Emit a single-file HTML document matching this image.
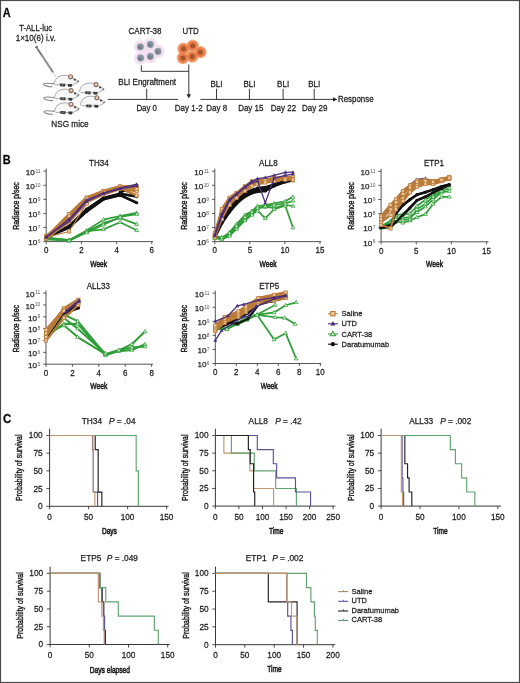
<!DOCTYPE html>
<html><head><meta charset="utf-8"><style>
html,body{margin:0;padding:0;background:#fff;}
body{width:520px;height:683px;overflow:hidden;position:relative;}
svg{position:absolute;left:0;top:0;display:block;font-family:"Liberation Sans", sans-serif;filter:blur(0.3px);}
text{stroke:#1c1c1c;stroke-width:0.25px;}
</style></head><body>
<svg width="520" height="683" viewBox="0 0 520 683">
<rect x="0" y="0" width="520" height="683" fill="#fff"/>
<text transform="translate(2.80,17.20) scale(0.9259,1)" font-size="11.88" text-anchor="start" fill="#000" font-weight="bold" >A</text>
<text transform="translate(35.60,30.80) scale(0.9259,1)" font-size="8.32" text-anchor="middle" fill="#1c1c1c" font-weight="normal" >T-ALL-luc</text>
<text transform="translate(35.70,40.60) scale(0.9259,1)" font-size="8.75" text-anchor="middle" fill="#1c1c1c" font-weight="normal" >1×10(6) i.v.</text>
<line x1="52.3" y1="71.2" x2="55.8" y2="76.8" stroke="#a9a9a9" stroke-width="0.7"/>
<line x1="37.6" y1="49.0" x2="52.6" y2="71.6" stroke="#7b7b7b" stroke-width="1.9" stroke-linecap="round"/>
<line x1="41.5" y1="55.5" x2="51.3" y2="70.0" stroke="#b9bec4" stroke-width="0.7"/>
<circle cx="36.6" cy="47.3" r="1.3" fill="#666"/>
<g transform="translate(25.60,7.30)"><path d="M54 84.8 C54 79.5 58.5 75.6 65 75.8 C68 75.9 70 76.5 72.5 78.5 C75 79.5 77 80.5 78.3 81.8 C77 83.3 75.5 84.2 73.5 84.6" fill="#f7f7f7" stroke="#9c9c9c" stroke-width="0.9"/><path d="M55 85.3 L73.5 85.8" stroke="#9a9a9a" stroke-width="0.9"/><path d="M59.6 84.0 L65.2 84.3 L64.6 87.2 L59.8 86.8 Z" fill="#3c3c3c"/><path d="M67.6 84.4 L72.0 84.6 L71.4 87.4 L68.0 87.2 Z" fill="#3c3c3c"/><circle cx="62.3" cy="85.6" r="0.8" fill="#8a8a8a"/><circle cx="70.4" cy="77.3" r="2.0" fill="#e2cdc3" stroke="#8e6a58" stroke-width="1.1"/><circle cx="74.5" cy="80.2" r="1.0" fill="#2e2e2e"/><path d="M75.5 82.2 L78.5 81.6 L77.2 83.6 Z" fill="#9a9a9a"/><circle cx="78.0" cy="81.7" r="0.7" fill="#555"/></g>
<g transform="translate(26.50,20.40)"><path d="M54 84.8 C54 79.5 58.5 75.6 65 75.8 C68 75.9 70 76.5 72.5 78.5 C75 79.5 77 80.5 78.3 81.8 C77 83.3 75.5 84.2 73.5 84.6" fill="#f7f7f7" stroke="#9c9c9c" stroke-width="0.9"/><path d="M55 85.3 L73.5 85.8" stroke="#9a9a9a" stroke-width="0.9"/><path d="M59.6 84.0 L65.2 84.3 L64.6 87.2 L59.8 86.8 Z" fill="#3c3c3c"/><path d="M67.6 84.4 L72.0 84.6 L71.4 87.4 L68.0 87.2 Z" fill="#3c3c3c"/><circle cx="62.3" cy="85.6" r="0.8" fill="#8a8a8a"/><circle cx="70.4" cy="77.3" r="2.0" fill="#e2cdc3" stroke="#8e6a58" stroke-width="1.1"/><circle cx="74.5" cy="80.2" r="1.0" fill="#2e2e2e"/><path d="M75.5 82.2 L78.5 81.6 L77.2 83.6 Z" fill="#9a9a9a"/><circle cx="78.0" cy="81.7" r="0.7" fill="#555"/></g>
<g transform="translate(0.20,-0.50)"><path d="M54.5 84.4 C49 83.6 44.5 83.4 43.4 84.4 C42.7 85.8 47 87.3 52.4 87.3" fill="none" stroke="#8a8a8a" stroke-width="1.1"/><path d="M54 84.8 C54 79.5 58.5 75.6 65 75.8 C68 75.9 70 76.5 72.5 78.5 C75 79.5 77 80.5 78.3 81.8 C77 83.3 75.5 84.2 73.5 84.6" fill="#f7f7f7" stroke="#9c9c9c" stroke-width="0.9"/><path d="M55 85.3 L73.5 85.8" stroke="#9a9a9a" stroke-width="0.9"/><path d="M59.6 84.0 L65.2 84.3 L64.6 87.2 L59.8 86.8 Z" fill="#3c3c3c"/><path d="M67.6 84.4 L72.0 84.6 L71.4 87.4 L68.0 87.2 Z" fill="#3c3c3c"/><circle cx="62.3" cy="85.6" r="0.8" fill="#8a8a8a"/><circle cx="70.4" cy="77.3" r="2.0" fill="#e2cdc3" stroke="#8e6a58" stroke-width="1.1"/><circle cx="74.5" cy="80.2" r="1.0" fill="#2e2e2e"/><path d="M75.5 82.2 L78.5 81.6 L77.2 83.6 Z" fill="#9a9a9a"/><circle cx="78.0" cy="81.7" r="0.7" fill="#555"/></g>
<g transform="translate(0.60,13.30)"><path d="M54.5 84.4 C49 83.6 44.5 83.4 43.4 84.4 C42.7 85.8 47 87.3 52.4 87.3" fill="none" stroke="#8a8a8a" stroke-width="1.1"/><path d="M54 84.8 C54 79.5 58.5 75.6 65 75.8 C68 75.9 70 76.5 72.5 78.5 C75 79.5 77 80.5 78.3 81.8 C77 83.3 75.5 84.2 73.5 84.6" fill="#f7f7f7" stroke="#9c9c9c" stroke-width="0.9"/><path d="M55 85.3 L73.5 85.8" stroke="#9a9a9a" stroke-width="0.9"/><path d="M59.6 84.0 L65.2 84.3 L64.6 87.2 L59.8 86.8 Z" fill="#3c3c3c"/><path d="M67.6 84.4 L72.0 84.6 L71.4 87.4 L68.0 87.2 Z" fill="#3c3c3c"/><circle cx="62.3" cy="85.6" r="0.8" fill="#8a8a8a"/><circle cx="70.4" cy="77.3" r="2.0" fill="#e2cdc3" stroke="#8e6a58" stroke-width="1.1"/><circle cx="74.5" cy="80.2" r="1.0" fill="#2e2e2e"/><path d="M75.5 82.2 L78.5 81.6 L77.2 83.6 Z" fill="#9a9a9a"/><circle cx="78.0" cy="81.7" r="0.7" fill="#555"/></g>
<g transform="translate(0.60,27.00)"><path d="M54.5 84.4 C49 83.6 44.5 83.4 43.4 84.4 C42.7 85.8 47 87.3 52.4 87.3" fill="none" stroke="#8a8a8a" stroke-width="1.1"/><path d="M54 84.8 C54 79.5 58.5 75.6 65 75.8 C68 75.9 70 76.5 72.5 78.5 C75 79.5 77 80.5 78.3 81.8 C77 83.3 75.5 84.2 73.5 84.6" fill="#f7f7f7" stroke="#9c9c9c" stroke-width="0.9"/><path d="M55 85.3 L73.5 85.8" stroke="#9a9a9a" stroke-width="0.9"/><path d="M59.6 84.0 L65.2 84.3 L64.6 87.2 L59.8 86.8 Z" fill="#3c3c3c"/><path d="M67.6 84.4 L72.0 84.6 L71.4 87.4 L68.0 87.2 Z" fill="#3c3c3c"/><circle cx="62.3" cy="85.6" r="0.8" fill="#8a8a8a"/><circle cx="70.4" cy="77.3" r="2.0" fill="#e2cdc3" stroke="#8e6a58" stroke-width="1.1"/><circle cx="74.5" cy="80.2" r="1.0" fill="#2e2e2e"/><path d="M75.5 82.2 L78.5 81.6 L77.2 83.6 Z" fill="#9a9a9a"/><circle cx="78.0" cy="81.7" r="0.7" fill="#555"/></g>
<text transform="translate(70.00,126.50) scale(0.9259,1)" font-size="8.86" text-anchor="middle" fill="#1c1c1c" font-weight="normal" >NSG mice</text>
<text transform="translate(145.00,34.30) scale(0.9259,1)" font-size="8.75" text-anchor="middle" fill="#1c1c1c" font-weight="normal" >CART-38</text>
<text transform="translate(190.70,34.30) scale(0.9259,1)" font-size="8.53" text-anchor="middle" fill="#1c1c1c" font-weight="normal" >UTD</text>
<g>
<circle cx="140.4" cy="46.8" r="6.6" fill="#f7e0f1"/>
<circle cx="150.4" cy="44.5" r="6.6" fill="#f7e0f1"/>
<circle cx="158" cy="51.4" r="6.6" fill="#f7e0f1"/>
<circle cx="150.4" cy="56.5" r="6.6" fill="#f7e0f1"/>
<circle cx="140.6" cy="58" r="6.6" fill="#f7e0f1"/>
<circle cx="148" cy="51.5" r="6" fill="#f7e0f1"/>
<circle cx="140.4" cy="46.8" r="4.4" fill="#e3e0ea"/>
<circle cx="150.4" cy="44.5" r="4.4" fill="#e3e0ea"/>
<circle cx="158" cy="51.4" r="4.4" fill="#e3e0ea"/>
<circle cx="150.4" cy="56.5" r="4.4" fill="#e3e0ea"/>
<circle cx="140.6" cy="58" r="4.4" fill="#e3e0ea"/>
<circle cx="140.4" cy="46.8" r="3.4" fill="#8d95a3"/>
<circle cx="139.9" cy="47.4" r="1.8" fill="#737b89"/>
<circle cx="150.4" cy="44.5" r="3.4" fill="#8d95a3"/>
<circle cx="149.9" cy="45.1" r="1.8" fill="#737b89"/>
<circle cx="158" cy="51.4" r="3.4" fill="#8d95a3"/>
<circle cx="157.5" cy="52.0" r="1.8" fill="#737b89"/>
<circle cx="150.4" cy="56.5" r="3.4" fill="#8d95a3"/>
<circle cx="149.9" cy="57.1" r="1.8" fill="#737b89"/>
<circle cx="140.6" cy="58" r="3.4" fill="#8d95a3"/>
<circle cx="140.1" cy="58.6" r="1.8" fill="#737b89"/>
<circle cx="183.5" cy="48.8" r="6.2" fill="#f4ae86"/>
<circle cx="192.7" cy="45.8" r="6.2" fill="#f4ae86"/>
<circle cx="200.4" cy="52.2" r="6.2" fill="#f4ae86"/>
<circle cx="192.2" cy="56.5" r="6.2" fill="#f4ae86"/>
<circle cx="182.9" cy="58" r="6.2" fill="#f4ae86"/>
<circle cx="183.5" cy="48.8" r="4.9" fill="#ea7c46"/>
<circle cx="192.7" cy="45.8" r="4.9" fill="#ea7c46"/>
<circle cx="200.4" cy="52.2" r="4.9" fill="#ea7c46"/>
<circle cx="192.2" cy="56.5" r="4.9" fill="#ea7c46"/>
<circle cx="182.9" cy="58" r="4.9" fill="#ea7c46"/>
<circle cx="183.5" cy="48.8" r="2.5" fill="#a4552d"/>
<circle cx="192.7" cy="45.8" r="2.5" fill="#a4552d"/>
<circle cx="200.4" cy="52.2" r="2.5" fill="#a4552d"/>
<circle cx="192.2" cy="56.5" r="2.5" fill="#a4552d"/>
<circle cx="182.9" cy="58" r="2.5" fill="#a4552d"/>
</g>
<path d="M141.3 65.5 V71.3 H188.8 M188.8 64.5 V95" fill="none" stroke="#222" stroke-width="0.9"/>
<path d="M186.6 94.3 L191 94.3 L188.8 98.3 Z" fill="#222"/>
<text transform="translate(147.20,84.60) scale(0.9259,1)" font-size="8.64" text-anchor="middle" fill="#1c1c1c" font-weight="normal" >BLI Engraftment</text>
<line x1="107.70" y1="99.40" x2="178.00" y2="99.40" stroke="#222" stroke-width="0.9"/>
<line x1="146.70" y1="88.80" x2="146.70" y2="99.40" stroke="#222" stroke-width="0.9"/>
<text transform="translate(146.70,111.00) scale(0.9259,1)" font-size="8.53" text-anchor="middle" fill="#1c1c1c" font-weight="normal" >Day 0</text>
<line x1="200.40" y1="99.40" x2="334.00" y2="99.40" stroke="#222" stroke-width="0.9"/>
<path d="M333 97.3 L337.3 99.4 L333 101.5 Z" fill="#222"/>
<line x1="216.50" y1="88.80" x2="216.50" y2="99.40" stroke="#222" stroke-width="0.9"/>
<text transform="translate(216.50,86.60) scale(0.9259,1)" font-size="8.64" text-anchor="middle" fill="#1c1c1c" font-weight="normal" >BLI</text>
<line x1="249.40" y1="88.80" x2="249.40" y2="99.40" stroke="#222" stroke-width="0.9"/>
<text transform="translate(249.40,86.60) scale(0.9259,1)" font-size="8.64" text-anchor="middle" fill="#1c1c1c" font-weight="normal" >BLI</text>
<line x1="283.10" y1="88.80" x2="283.10" y2="99.40" stroke="#222" stroke-width="0.9"/>
<text transform="translate(283.10,86.60) scale(0.9259,1)" font-size="8.64" text-anchor="middle" fill="#1c1c1c" font-weight="normal" >BLI</text>
<line x1="314.20" y1="88.80" x2="314.20" y2="99.40" stroke="#222" stroke-width="0.9"/>
<text transform="translate(314.20,86.60) scale(0.9259,1)" font-size="8.64" text-anchor="middle" fill="#1c1c1c" font-weight="normal" >BLI</text>
<text transform="translate(188.80,111.00) scale(0.9259,1)" font-size="8.64" text-anchor="middle" fill="#1c1c1c" font-weight="normal" >Day 1-2</text>
<text transform="translate(216.65,111.00) scale(0.9259,1)" font-size="8.64" text-anchor="middle" fill="#1c1c1c" font-weight="normal" >Day 8</text>
<text transform="translate(250.80,111.00) scale(0.9259,1)" font-size="8.64" text-anchor="middle" fill="#1c1c1c" font-weight="normal" >Day 15</text>
<text transform="translate(283.50,111.00) scale(0.9259,1)" font-size="8.64" text-anchor="middle" fill="#1c1c1c" font-weight="normal" >Day 22</text>
<text transform="translate(314.70,111.00) scale(0.9259,1)" font-size="8.64" text-anchor="middle" fill="#1c1c1c" font-weight="normal" >Day 29</text>
<text transform="translate(338.00,102.30) scale(0.9259,1)" font-size="8.53" text-anchor="start" fill="#1c1c1c" font-weight="normal" >Response</text>
<text transform="translate(2.80,164.20) scale(0.9259,1)" font-size="11.88" text-anchor="start" fill="#000" font-weight="bold" >B</text>
<path d="M46.20 168.60 V241.60 H153.00" fill="none" stroke="#555" stroke-width="1.0"/>
<line x1="43.40" y1="241.60" x2="46.20" y2="241.60" stroke="#333" stroke-width="0.8"/>
<text transform="translate(37.30,245.30)" font-size="8.1" text-anchor="end" fill="#1c1c1c">10</text><text x="40.50" y="242.90" font-size="4.9" text-anchor="end" fill="#555" style="stroke:none">6</text>
<line x1="43.40" y1="227.52" x2="46.20" y2="227.52" stroke="#333" stroke-width="0.8"/>
<text transform="translate(37.30,231.22)" font-size="8.1" text-anchor="end" fill="#1c1c1c">10</text><text x="40.50" y="228.82" font-size="4.9" text-anchor="end" fill="#555" style="stroke:none">7</text>
<line x1="43.40" y1="213.44" x2="46.20" y2="213.44" stroke="#333" stroke-width="0.8"/>
<text transform="translate(37.30,217.14)" font-size="8.1" text-anchor="end" fill="#1c1c1c">10</text><text x="40.50" y="214.74" font-size="4.9" text-anchor="end" fill="#555" style="stroke:none">8</text>
<line x1="43.40" y1="199.36" x2="46.20" y2="199.36" stroke="#333" stroke-width="0.8"/>
<text transform="translate(37.30,203.06)" font-size="8.1" text-anchor="end" fill="#1c1c1c">10</text><text x="40.50" y="200.66" font-size="4.9" text-anchor="end" fill="#555" style="stroke:none">9</text>
<line x1="43.40" y1="185.28" x2="46.20" y2="185.28" stroke="#333" stroke-width="0.8"/>
<text transform="translate(34.70,188.98)" font-size="8.1" text-anchor="end" fill="#1c1c1c">10</text><text x="40.50" y="186.58" font-size="4.9" text-anchor="end" fill="#555" style="stroke:none">10</text>
<line x1="43.40" y1="171.20" x2="46.20" y2="171.20" stroke="#333" stroke-width="0.8"/>
<text transform="translate(34.70,174.90)" font-size="8.1" text-anchor="end" fill="#1c1c1c">10</text><text x="40.50" y="172.50" font-size="4.9" text-anchor="end" fill="#555" style="stroke:none">11</text>
<line x1="46.20" y1="241.60" x2="46.20" y2="244.20" stroke="#333" stroke-width="0.8"/>
<text transform="translate(46.20,253.40) scale(0.9259,1)" font-size="8.64" text-anchor="middle" fill="#1c1c1c" font-weight="normal" >0</text>
<line x1="81.40" y1="241.60" x2="81.40" y2="244.20" stroke="#333" stroke-width="0.8"/>
<text transform="translate(81.40,253.40) scale(0.9259,1)" font-size="8.64" text-anchor="middle" fill="#1c1c1c" font-weight="normal" >2</text>
<line x1="116.60" y1="241.60" x2="116.60" y2="244.20" stroke="#333" stroke-width="0.8"/>
<text transform="translate(116.60,253.40) scale(0.9259,1)" font-size="8.64" text-anchor="middle" fill="#1c1c1c" font-weight="normal" >4</text>
<line x1="151.80" y1="241.60" x2="151.80" y2="244.20" stroke="#333" stroke-width="0.8"/>
<text transform="translate(151.80,253.40) scale(0.9259,1)" font-size="8.64" text-anchor="middle" fill="#1c1c1c" font-weight="normal" >6</text>
<text transform="translate(98.80,165.60) scale(0.9259,1)" font-size="8.64" text-anchor="middle" fill="#1c1c1c" font-weight="normal" >TH34</text>
<text x="98.70" y="266.80" font-size="9.4" font-weight="normal" text-anchor="middle" fill="#1c1c1c" style="stroke-width:0.55px" textLength="17.0" lengthAdjust="spacingAndGlyphs">Week</text>
<text transform="translate(19.40,206.00) rotate(-90)" x="0" y="0" font-size="8.9" font-weight="normal" text-anchor="middle" fill="#1c1c1c" style="stroke-width:0.45px" textLength="47.5" lengthAdjust="spacingAndGlyphs">Radiance p/sec</text>
<polyline points="46.20,237.38 69.08,227.52 86.68,211.33 103.40,199.36 120.12,195.14 136.66,202.74" fill="none" stroke="#111111" stroke-width="2.6" stroke-linejoin="round" stroke-linecap="round"/>
<polyline points="46.20,238.08 69.08,226.11 86.68,209.22 103.40,197.95 120.12,193.73 136.66,196.54" fill="none" stroke="#111111" stroke-width="2.6" stroke-linejoin="round" stroke-linecap="round"/>
<polyline points="120.12,192.32 136.66,185.28" fill="none" stroke="#111111" stroke-width="2.6" stroke-linejoin="round" stroke-linecap="round"/>
<polyline points="46.20,237.38 69.08,214.14 86.68,197.53 103.40,190.91 120.12,186.27 136.66,186.69" fill="none" stroke="#bb7c3a" stroke-width="2.6" stroke-linejoin="round" stroke-linecap="round"/>
<polyline points="46.20,235.97 69.08,218.79 86.68,200.06 103.40,193.02 120.12,188.10 136.66,195.56" fill="none" stroke="#bb7c3a" stroke-width="2.6" stroke-linejoin="round" stroke-linecap="round"/>
<polyline points="46.20,238.78 69.08,221.89 86.68,202.18 103.40,194.43 120.12,188.80 136.66,190.91" fill="none" stroke="#bb7c3a" stroke-width="2.6" stroke-linejoin="round" stroke-linecap="round"/>
<polyline points="46.20,236.67 69.08,216.26 86.68,198.66 103.40,192.32 120.12,187.39 136.66,188.80" fill="none" stroke="#bb7c3a" stroke-width="2.6" stroke-linejoin="round" stroke-linecap="round"/>
<polyline points="46.20,238.08 69.08,240.19 86.68,230.48 103.40,219.64 120.12,215.97 136.66,212.88" fill="none" stroke="#2f9e37" stroke-width="1.7" stroke-linejoin="round"/>
<path d="M46.20 236.08 L48.10 239.38 L44.30 239.38 Z" fill="#e9f5e9" stroke="#2f9e37" stroke-width="0.75"/><path d="M69.08 238.19 L70.98 241.49 L67.18 241.49 Z" fill="#e9f5e9" stroke="#2f9e37" stroke-width="0.75"/><path d="M86.68 228.48 L88.58 231.78 L84.78 231.78 Z" fill="#e9f5e9" stroke="#2f9e37" stroke-width="0.75"/><path d="M103.40 217.64 L105.30 220.94 L101.50 220.94 Z" fill="#e9f5e9" stroke="#2f9e37" stroke-width="0.75"/><path d="M120.12 213.97 L122.02 217.27 L118.22 217.27 Z" fill="#e9f5e9" stroke="#2f9e37" stroke-width="0.75"/><path d="M136.66 210.88 L138.56 214.18 L134.76 214.18 Z" fill="#e9f5e9" stroke="#2f9e37" stroke-width="0.75"/>
<polyline points="46.20,238.78 69.08,240.90 86.68,231.74 103.40,223.16 120.12,217.95 136.66,224.14" fill="none" stroke="#2f9e37" stroke-width="1.7" stroke-linejoin="round"/>
<path d="M46.20 236.78 L48.10 240.08 L44.30 240.08 Z" fill="#e9f5e9" stroke="#2f9e37" stroke-width="0.75"/><path d="M69.08 238.90 L70.98 242.20 L67.18 242.20 Z" fill="#e9f5e9" stroke="#2f9e37" stroke-width="0.75"/><path d="M86.68 229.74 L88.58 233.04 L84.78 233.04 Z" fill="#e9f5e9" stroke="#2f9e37" stroke-width="0.75"/><path d="M103.40 221.16 L105.30 224.46 L101.50 224.46 Z" fill="#e9f5e9" stroke="#2f9e37" stroke-width="0.75"/><path d="M120.12 215.95 L122.02 219.25 L118.22 219.25 Z" fill="#e9f5e9" stroke="#2f9e37" stroke-width="0.75"/><path d="M136.66 222.14 L138.56 225.44 L134.76 225.44 Z" fill="#e9f5e9" stroke="#2f9e37" stroke-width="0.75"/>
<polyline points="46.20,237.38 69.08,240.19 86.68,231.04 103.40,229.35 120.12,222.17 136.66,230.34" fill="none" stroke="#2f9e37" stroke-width="1.7" stroke-linejoin="round"/>
<path d="M46.20 235.38 L48.10 238.68 L44.30 238.68 Z" fill="#e9f5e9" stroke="#2f9e37" stroke-width="0.75"/><path d="M69.08 238.19 L70.98 241.49 L67.18 241.49 Z" fill="#e9f5e9" stroke="#2f9e37" stroke-width="0.75"/><path d="M86.68 229.04 L88.58 232.34 L84.78 232.34 Z" fill="#e9f5e9" stroke="#2f9e37" stroke-width="0.75"/><path d="M103.40 227.35 L105.30 230.65 L101.50 230.65 Z" fill="#e9f5e9" stroke="#2f9e37" stroke-width="0.75"/><path d="M120.12 220.17 L122.02 223.47 L118.22 223.47 Z" fill="#e9f5e9" stroke="#2f9e37" stroke-width="0.75"/><path d="M136.66 228.34 L138.56 231.64 L134.76 231.64 Z" fill="#e9f5e9" stroke="#2f9e37" stroke-width="0.75"/>
<polyline points="46.20,239.49 69.08,240.47 86.68,232.45 103.40,224.70 120.12,216.96 136.66,214.14" fill="none" stroke="#2f9e37" stroke-width="1.7" stroke-linejoin="round"/>
<path d="M46.20 237.49 L48.10 240.79 L44.30 240.79 Z" fill="#e9f5e9" stroke="#2f9e37" stroke-width="0.75"/><path d="M69.08 238.47 L70.98 241.77 L67.18 241.77 Z" fill="#e9f5e9" stroke="#2f9e37" stroke-width="0.75"/><path d="M86.68 230.45 L88.58 233.75 L84.78 233.75 Z" fill="#e9f5e9" stroke="#2f9e37" stroke-width="0.75"/><path d="M103.40 222.70 L105.30 226.00 L101.50 226.00 Z" fill="#e9f5e9" stroke="#2f9e37" stroke-width="0.75"/><path d="M120.12 214.96 L122.02 218.26 L118.22 218.26 Z" fill="#e9f5e9" stroke="#2f9e37" stroke-width="0.75"/><path d="M136.66 212.14 L138.56 215.44 L134.76 215.44 Z" fill="#e9f5e9" stroke="#2f9e37" stroke-width="0.75"/>
<polyline points="46.20,237.38 69.08,227.52 86.68,211.33 103.40,199.36 120.12,195.14 136.66,202.74" fill="none" stroke="#111111" stroke-width="1.9" stroke-linejoin="round"/>
<circle cx="46.20" cy="237.38" r="1.6" fill="#111111"/><circle cx="69.08" cy="227.52" r="1.6" fill="#111111"/><circle cx="86.68" cy="211.33" r="1.6" fill="#111111"/><circle cx="103.40" cy="199.36" r="1.6" fill="#111111"/><circle cx="120.12" cy="195.14" r="1.6" fill="#111111"/><circle cx="136.66" cy="202.74" r="1.6" fill="#111111"/>
<polyline points="46.20,238.08 69.08,226.11 86.68,209.22 103.40,197.95 120.12,193.73 136.66,196.54" fill="none" stroke="#111111" stroke-width="1.9" stroke-linejoin="round"/>
<circle cx="46.20" cy="238.08" r="1.6" fill="#111111"/><circle cx="69.08" cy="226.11" r="1.6" fill="#111111"/><circle cx="86.68" cy="209.22" r="1.6" fill="#111111"/><circle cx="103.40" cy="197.95" r="1.6" fill="#111111"/><circle cx="120.12" cy="193.73" r="1.6" fill="#111111"/><circle cx="136.66" cy="196.54" r="1.6" fill="#111111"/>
<polyline points="120.12,192.32 136.66,185.28" fill="none" stroke="#111111" stroke-width="1.9" stroke-linejoin="round"/>
<circle cx="120.12" cy="192.32" r="1.6" fill="#111111"/><circle cx="136.66" cy="185.28" r="1.6" fill="#111111"/>
<polyline points="46.20,237.38 69.08,214.14 86.68,197.53 103.40,190.91 120.12,186.27 136.66,186.69" fill="none" stroke="#bb7c3a" stroke-width="1.9" stroke-linejoin="round"/>
<rect x="44.60" y="235.78" width="3.2" height="3.2" fill="#ecc9a0" stroke="#bb7c3a" stroke-width="0.8"/><rect x="67.48" y="212.54" width="3.2" height="3.2" fill="#ecc9a0" stroke="#bb7c3a" stroke-width="0.8"/><rect x="85.08" y="195.93" width="3.2" height="3.2" fill="#ecc9a0" stroke="#bb7c3a" stroke-width="0.8"/><rect x="101.80" y="189.31" width="3.2" height="3.2" fill="#ecc9a0" stroke="#bb7c3a" stroke-width="0.8"/><rect x="118.52" y="184.67" width="3.2" height="3.2" fill="#ecc9a0" stroke="#bb7c3a" stroke-width="0.8"/><rect x="135.06" y="185.09" width="3.2" height="3.2" fill="#ecc9a0" stroke="#bb7c3a" stroke-width="0.8"/>
<polyline points="46.20,235.97 69.08,218.79 86.68,200.06 103.40,193.02 120.12,188.10 136.66,195.56" fill="none" stroke="#bb7c3a" stroke-width="1.9" stroke-linejoin="round"/>
<rect x="44.60" y="234.37" width="3.2" height="3.2" fill="#ecc9a0" stroke="#bb7c3a" stroke-width="0.8"/><rect x="67.48" y="217.19" width="3.2" height="3.2" fill="#ecc9a0" stroke="#bb7c3a" stroke-width="0.8"/><rect x="85.08" y="198.46" width="3.2" height="3.2" fill="#ecc9a0" stroke="#bb7c3a" stroke-width="0.8"/><rect x="101.80" y="191.42" width="3.2" height="3.2" fill="#ecc9a0" stroke="#bb7c3a" stroke-width="0.8"/><rect x="118.52" y="186.50" width="3.2" height="3.2" fill="#ecc9a0" stroke="#bb7c3a" stroke-width="0.8"/><rect x="135.06" y="193.96" width="3.2" height="3.2" fill="#ecc9a0" stroke="#bb7c3a" stroke-width="0.8"/>
<polyline points="46.20,238.78 69.08,221.89 86.68,202.18 103.40,194.43 120.12,188.80 136.66,190.91" fill="none" stroke="#bb7c3a" stroke-width="1.9" stroke-linejoin="round"/>
<rect x="44.60" y="237.18" width="3.2" height="3.2" fill="#ecc9a0" stroke="#bb7c3a" stroke-width="0.8"/><rect x="67.48" y="220.29" width="3.2" height="3.2" fill="#ecc9a0" stroke="#bb7c3a" stroke-width="0.8"/><rect x="85.08" y="200.58" width="3.2" height="3.2" fill="#ecc9a0" stroke="#bb7c3a" stroke-width="0.8"/><rect x="101.80" y="192.83" width="3.2" height="3.2" fill="#ecc9a0" stroke="#bb7c3a" stroke-width="0.8"/><rect x="118.52" y="187.20" width="3.2" height="3.2" fill="#ecc9a0" stroke="#bb7c3a" stroke-width="0.8"/><rect x="135.06" y="189.31" width="3.2" height="3.2" fill="#ecc9a0" stroke="#bb7c3a" stroke-width="0.8"/>
<polyline points="46.20,236.67 69.08,216.26 86.68,198.66 103.40,192.32 120.12,187.39 136.66,188.80" fill="none" stroke="#bb7c3a" stroke-width="1.9" stroke-linejoin="round"/>
<rect x="44.60" y="235.07" width="3.2" height="3.2" fill="#ecc9a0" stroke="#bb7c3a" stroke-width="0.8"/><rect x="67.48" y="214.66" width="3.2" height="3.2" fill="#ecc9a0" stroke="#bb7c3a" stroke-width="0.8"/><rect x="85.08" y="197.06" width="3.2" height="3.2" fill="#ecc9a0" stroke="#bb7c3a" stroke-width="0.8"/><rect x="101.80" y="190.72" width="3.2" height="3.2" fill="#ecc9a0" stroke="#bb7c3a" stroke-width="0.8"/><rect x="118.52" y="185.79" width="3.2" height="3.2" fill="#ecc9a0" stroke="#bb7c3a" stroke-width="0.8"/><rect x="135.06" y="187.20" width="3.2" height="3.2" fill="#ecc9a0" stroke="#bb7c3a" stroke-width="0.8"/>
<polyline points="46.20,237.38 69.08,231.46 86.68,203.58" fill="none" stroke="#bb7c3a" stroke-width="1.14" stroke-linejoin="round"/>
<rect x="44.60" y="235.78" width="3.2" height="3.2" fill="#ecc9a0" stroke="#bb7c3a" stroke-width="0.8"/><rect x="67.48" y="229.86" width="3.2" height="3.2" fill="#ecc9a0" stroke="#bb7c3a" stroke-width="0.8"/><rect x="85.08" y="201.98" width="3.2" height="3.2" fill="#ecc9a0" stroke="#bb7c3a" stroke-width="0.8"/>
<polyline points="46.20,237.38 69.08,219.07 86.68,200.06 103.40,193.02 120.12,188.10 136.66,184.15" fill="none" stroke="#4a2c7c" stroke-width="1.3" stroke-linejoin="round"/>
<path d="M46.20 235.38 L48.10 238.68 L44.30 238.68 Z" fill="#4a2c7c"/><path d="M69.08 217.07 L70.98 220.37 L67.18 220.37 Z" fill="#4a2c7c"/><path d="M86.68 198.06 L88.58 201.36 L84.78 201.36 Z" fill="#4a2c7c"/><path d="M103.40 191.02 L105.30 194.32 L101.50 194.32 Z" fill="#4a2c7c"/><path d="M120.12 186.10 L122.02 189.40 L118.22 189.40 Z" fill="#4a2c7c"/><path d="M136.66 182.15 L138.56 185.45 L134.76 185.45 Z" fill="#4a2c7c"/>
<polyline points="46.20,236.67 69.08,221.18 86.68,201.47 103.40,193.73 120.12,188.80 136.66,185.98" fill="none" stroke="#4a2c7c" stroke-width="1.3" stroke-linejoin="round"/>
<path d="M46.20 234.67 L48.10 237.97 L44.30 237.97 Z" fill="#4a2c7c"/><path d="M69.08 219.18 L70.98 222.48 L67.18 222.48 Z" fill="#4a2c7c"/><path d="M86.68 199.47 L88.58 202.77 L84.78 202.77 Z" fill="#4a2c7c"/><path d="M103.40 191.73 L105.30 195.03 L101.50 195.03 Z" fill="#4a2c7c"/><path d="M120.12 186.80 L122.02 190.10 L118.22 190.10 Z" fill="#4a2c7c"/><path d="M136.66 183.98 L138.56 187.28 L134.76 187.28 Z" fill="#4a2c7c"/>
<path d="M214.80 168.60 V241.60 H321.20" fill="none" stroke="#555" stroke-width="1.0"/>
<line x1="212.00" y1="241.60" x2="214.80" y2="241.60" stroke="#333" stroke-width="0.8"/>
<text transform="translate(205.90,245.30)" font-size="8.1" text-anchor="end" fill="#1c1c1c">10</text><text x="209.10" y="242.90" font-size="4.9" text-anchor="end" fill="#555" style="stroke:none">6</text>
<line x1="212.00" y1="227.52" x2="214.80" y2="227.52" stroke="#333" stroke-width="0.8"/>
<text transform="translate(205.90,231.22)" font-size="8.1" text-anchor="end" fill="#1c1c1c">10</text><text x="209.10" y="228.82" font-size="4.9" text-anchor="end" fill="#555" style="stroke:none">7</text>
<line x1="212.00" y1="213.44" x2="214.80" y2="213.44" stroke="#333" stroke-width="0.8"/>
<text transform="translate(205.90,217.14)" font-size="8.1" text-anchor="end" fill="#1c1c1c">10</text><text x="209.10" y="214.74" font-size="4.9" text-anchor="end" fill="#555" style="stroke:none">8</text>
<line x1="212.00" y1="199.36" x2="214.80" y2="199.36" stroke="#333" stroke-width="0.8"/>
<text transform="translate(205.90,203.06)" font-size="8.1" text-anchor="end" fill="#1c1c1c">10</text><text x="209.10" y="200.66" font-size="4.9" text-anchor="end" fill="#555" style="stroke:none">9</text>
<line x1="212.00" y1="185.28" x2="214.80" y2="185.28" stroke="#333" stroke-width="0.8"/>
<text transform="translate(203.30,188.98)" font-size="8.1" text-anchor="end" fill="#1c1c1c">10</text><text x="209.10" y="186.58" font-size="4.9" text-anchor="end" fill="#555" style="stroke:none">10</text>
<line x1="212.00" y1="171.20" x2="214.80" y2="171.20" stroke="#333" stroke-width="0.8"/>
<text transform="translate(203.30,174.90)" font-size="8.1" text-anchor="end" fill="#1c1c1c">10</text><text x="209.10" y="172.50" font-size="4.9" text-anchor="end" fill="#555" style="stroke:none">11</text>
<line x1="214.80" y1="241.60" x2="214.80" y2="244.20" stroke="#333" stroke-width="0.8"/>
<text transform="translate(214.80,253.40) scale(0.9259,1)" font-size="8.64" text-anchor="middle" fill="#1c1c1c" font-weight="normal" >0</text>
<line x1="249.85" y1="241.60" x2="249.85" y2="244.20" stroke="#333" stroke-width="0.8"/>
<text transform="translate(249.85,253.40) scale(0.9259,1)" font-size="8.64" text-anchor="middle" fill="#1c1c1c" font-weight="normal" >5</text>
<line x1="284.90" y1="241.60" x2="284.90" y2="244.20" stroke="#333" stroke-width="0.8"/>
<text transform="translate(284.90,253.40) scale(0.9259,1)" font-size="8.64" text-anchor="middle" fill="#1c1c1c" font-weight="normal" >10</text>
<line x1="319.95" y1="241.60" x2="319.95" y2="244.20" stroke="#333" stroke-width="0.8"/>
<text transform="translate(319.95,253.40) scale(0.9259,1)" font-size="8.64" text-anchor="middle" fill="#1c1c1c" font-weight="normal" >15</text>
<text transform="translate(268.40,166.00) scale(0.9259,1)" font-size="8.64" text-anchor="middle" fill="#1c1c1c" font-weight="normal" >ALL8</text>
<text x="268.00" y="266.80" font-size="9.4" font-weight="normal" text-anchor="middle" fill="#1c1c1c" style="stroke-width:0.55px" textLength="17.0" lengthAdjust="spacingAndGlyphs">Week</text>
<text transform="translate(186.90,206.00) rotate(-90)" x="0" y="0" font-size="8.9" font-weight="normal" text-anchor="middle" fill="#1c1c1c" style="stroke-width:0.45px" textLength="47.5" lengthAdjust="spacingAndGlyphs">Radiance p/sec</text>
<polyline points="214.80,237.38 221.81,223.30 229.52,212.03 236.53,203.58 244.94,196.54 251.95,193.02 257.56,191.62 265.27,190.91 274.10,185.98 285.25,181.90 292.96,180.35" fill="none" stroke="#111111" stroke-width="2.6" stroke-linejoin="round" stroke-linecap="round"/>
<polyline points="214.80,235.97 221.81,217.66 229.52,206.40 236.53,199.36 244.94,193.02 251.95,190.21 257.56,188.10 265.27,187.39 274.10,184.58 285.25,181.06 292.96,178.94" fill="none" stroke="#111111" stroke-width="2.6" stroke-linejoin="round" stroke-linecap="round"/>
<polyline points="214.80,236.67 221.81,220.48 229.52,209.22 236.53,201.47 244.94,195.14 251.95,191.62 257.56,189.50 265.27,189.50 274.10,185.28 285.25,181.48 292.96,179.65" fill="none" stroke="#111111" stroke-width="2.6" stroke-linejoin="round" stroke-linecap="round"/>
<polyline points="214.80,234.56 221.81,209.22 229.52,197.67 236.53,193.02 244.94,186.27 251.95,181.48 257.56,180.35 265.27,179.65 274.10,178.24 285.25,176.83 292.96,177.25" fill="none" stroke="#bb7c3a" stroke-width="2.6" stroke-linejoin="round" stroke-linecap="round"/>
<polyline points="214.80,235.97 221.81,214.85 229.52,202.18 236.53,195.14 244.94,188.10 251.95,183.87 257.56,182.46 265.27,181.76 274.10,180.35 285.25,178.94 292.96,180.35" fill="none" stroke="#bb7c3a" stroke-width="2.6" stroke-linejoin="round" stroke-linecap="round"/>
<polyline points="214.80,233.15 221.81,212.03 229.52,199.36 236.53,193.73 244.94,187.39 251.95,182.46 257.56,181.06 265.27,180.35 274.10,178.94 285.25,178.24 292.96,178.94" fill="none" stroke="#bb7c3a" stroke-width="2.6" stroke-linejoin="round" stroke-linecap="round"/>
<polyline points="214.80,237.38 221.81,219.07 229.52,204.99 236.53,197.95 244.94,190.91 251.95,185.98 257.56,183.87 265.27,182.46 274.10,181.06 285.25,179.65 292.96,179.65" fill="none" stroke="#bb7c3a" stroke-width="2.6" stroke-linejoin="round" stroke-linecap="round"/>
<polyline points="214.80,237.38 221.81,238.08 229.52,232.31 236.53,224.14 244.94,214.99 251.95,211.05 257.56,205.98 265.27,204.99 274.10,203.44 285.25,201.33 292.96,196.83" fill="none" stroke="#2f9e37" stroke-width="1.7" stroke-linejoin="round"/>
<path d="M214.80 235.38 L216.70 238.68 L212.90 238.68 Z" fill="#e9f5e9" stroke="#2f9e37" stroke-width="0.75"/><path d="M221.81 236.08 L223.71 239.38 L219.91 239.38 Z" fill="#e9f5e9" stroke="#2f9e37" stroke-width="0.75"/><path d="M229.52 230.31 L231.42 233.61 L227.62 233.61 Z" fill="#e9f5e9" stroke="#2f9e37" stroke-width="0.75"/><path d="M236.53 222.14 L238.43 225.44 L234.63 225.44 Z" fill="#e9f5e9" stroke="#2f9e37" stroke-width="0.75"/><path d="M244.94 212.99 L246.84 216.29 L243.04 216.29 Z" fill="#e9f5e9" stroke="#2f9e37" stroke-width="0.75"/><path d="M251.95 209.05 L253.85 212.35 L250.05 212.35 Z" fill="#e9f5e9" stroke="#2f9e37" stroke-width="0.75"/><path d="M257.56 203.98 L259.46 207.28 L255.66 207.28 Z" fill="#e9f5e9" stroke="#2f9e37" stroke-width="0.75"/><path d="M265.27 202.99 L267.17 206.29 L263.37 206.29 Z" fill="#e9f5e9" stroke="#2f9e37" stroke-width="0.75"/><path d="M274.10 201.44 L276.00 204.74 L272.20 204.74 Z" fill="#e9f5e9" stroke="#2f9e37" stroke-width="0.75"/><path d="M285.25 199.33 L287.15 202.63 L283.35 202.63 Z" fill="#e9f5e9" stroke="#2f9e37" stroke-width="0.75"/><path d="M292.96 194.83 L294.86 198.13 L291.06 198.13 Z" fill="#e9f5e9" stroke="#2f9e37" stroke-width="0.75"/>
<polyline points="214.80,236.67 221.81,238.78 229.52,234.56 236.53,227.52 244.94,219.07 251.95,214.14 257.56,208.51 265.27,206.96 274.10,207.95 285.25,204.99 292.96,205.98" fill="none" stroke="#2f9e37" stroke-width="1.7" stroke-linejoin="round"/>
<path d="M214.80 234.67 L216.70 237.97 L212.90 237.97 Z" fill="#e9f5e9" stroke="#2f9e37" stroke-width="0.75"/><path d="M221.81 236.78 L223.71 240.08 L219.91 240.08 Z" fill="#e9f5e9" stroke="#2f9e37" stroke-width="0.75"/><path d="M229.52 232.56 L231.42 235.86 L227.62 235.86 Z" fill="#e9f5e9" stroke="#2f9e37" stroke-width="0.75"/><path d="M236.53 225.52 L238.43 228.82 L234.63 228.82 Z" fill="#e9f5e9" stroke="#2f9e37" stroke-width="0.75"/><path d="M244.94 217.07 L246.84 220.37 L243.04 220.37 Z" fill="#e9f5e9" stroke="#2f9e37" stroke-width="0.75"/><path d="M251.95 212.14 L253.85 215.44 L250.05 215.44 Z" fill="#e9f5e9" stroke="#2f9e37" stroke-width="0.75"/><path d="M257.56 206.51 L259.46 209.81 L255.66 209.81 Z" fill="#e9f5e9" stroke="#2f9e37" stroke-width="0.75"/><path d="M265.27 204.96 L267.17 208.26 L263.37 208.26 Z" fill="#e9f5e9" stroke="#2f9e37" stroke-width="0.75"/><path d="M274.10 205.95 L276.00 209.25 L272.20 209.25 Z" fill="#e9f5e9" stroke="#2f9e37" stroke-width="0.75"/><path d="M285.25 202.99 L287.15 206.29 L283.35 206.29 Z" fill="#e9f5e9" stroke="#2f9e37" stroke-width="0.75"/><path d="M292.96 203.98 L294.86 207.28 L291.06 207.28 Z" fill="#e9f5e9" stroke="#2f9e37" stroke-width="0.75"/>
<polyline points="214.80,238.08 221.81,239.49 229.52,235.97 236.53,228.93 244.94,220.48 251.95,214.85 257.56,210.62 265.27,218.37 274.10,209.22 285.25,205.70 292.96,227.52" fill="none" stroke="#2f9e37" stroke-width="1.7" stroke-linejoin="round"/>
<path d="M214.80 236.08 L216.70 239.38 L212.90 239.38 Z" fill="#e9f5e9" stroke="#2f9e37" stroke-width="0.75"/><path d="M221.81 237.49 L223.71 240.79 L219.91 240.79 Z" fill="#e9f5e9" stroke="#2f9e37" stroke-width="0.75"/><path d="M229.52 233.97 L231.42 237.27 L227.62 237.27 Z" fill="#e9f5e9" stroke="#2f9e37" stroke-width="0.75"/><path d="M236.53 226.93 L238.43 230.23 L234.63 230.23 Z" fill="#e9f5e9" stroke="#2f9e37" stroke-width="0.75"/><path d="M244.94 218.48 L246.84 221.78 L243.04 221.78 Z" fill="#e9f5e9" stroke="#2f9e37" stroke-width="0.75"/><path d="M251.95 212.85 L253.85 216.15 L250.05 216.15 Z" fill="#e9f5e9" stroke="#2f9e37" stroke-width="0.75"/><path d="M257.56 208.62 L259.46 211.92 L255.66 211.92 Z" fill="#e9f5e9" stroke="#2f9e37" stroke-width="0.75"/><path d="M265.27 216.37 L267.17 219.67 L263.37 219.67 Z" fill="#e9f5e9" stroke="#2f9e37" stroke-width="0.75"/><path d="M274.10 207.22 L276.00 210.52 L272.20 210.52 Z" fill="#e9f5e9" stroke="#2f9e37" stroke-width="0.75"/><path d="M285.25 203.70 L287.15 207.00 L283.35 207.00 Z" fill="#e9f5e9" stroke="#2f9e37" stroke-width="0.75"/><path d="M292.96 225.52 L294.86 228.82 L291.06 228.82 Z" fill="#e9f5e9" stroke="#2f9e37" stroke-width="0.75"/>
<polyline points="214.80,235.97 221.81,237.38 229.52,233.15 236.53,226.11 244.94,216.96 251.95,212.03 257.56,207.81 265.27,206.40 274.10,204.99 285.25,203.58 292.96,200.77" fill="none" stroke="#2f9e37" stroke-width="1.7" stroke-linejoin="round"/>
<path d="M214.80 233.97 L216.70 237.27 L212.90 237.27 Z" fill="#e9f5e9" stroke="#2f9e37" stroke-width="0.75"/><path d="M221.81 235.38 L223.71 238.68 L219.91 238.68 Z" fill="#e9f5e9" stroke="#2f9e37" stroke-width="0.75"/><path d="M229.52 231.15 L231.42 234.45 L227.62 234.45 Z" fill="#e9f5e9" stroke="#2f9e37" stroke-width="0.75"/><path d="M236.53 224.11 L238.43 227.41 L234.63 227.41 Z" fill="#e9f5e9" stroke="#2f9e37" stroke-width="0.75"/><path d="M244.94 214.96 L246.84 218.26 L243.04 218.26 Z" fill="#e9f5e9" stroke="#2f9e37" stroke-width="0.75"/><path d="M251.95 210.03 L253.85 213.33 L250.05 213.33 Z" fill="#e9f5e9" stroke="#2f9e37" stroke-width="0.75"/><path d="M257.56 205.81 L259.46 209.11 L255.66 209.11 Z" fill="#e9f5e9" stroke="#2f9e37" stroke-width="0.75"/><path d="M265.27 204.40 L267.17 207.70 L263.37 207.70 Z" fill="#e9f5e9" stroke="#2f9e37" stroke-width="0.75"/><path d="M274.10 202.99 L276.00 206.29 L272.20 206.29 Z" fill="#e9f5e9" stroke="#2f9e37" stroke-width="0.75"/><path d="M285.25 201.58 L287.15 204.88 L283.35 204.88 Z" fill="#e9f5e9" stroke="#2f9e37" stroke-width="0.75"/><path d="M292.96 198.77 L294.86 202.07 L291.06 202.07 Z" fill="#e9f5e9" stroke="#2f9e37" stroke-width="0.75"/>
<polyline points="214.80,237.38 221.81,223.30 229.52,212.03 236.53,203.58 244.94,196.54 251.95,193.02 257.56,191.62 265.27,190.91 274.10,185.98 285.25,181.90 292.96,180.35" fill="none" stroke="#111111" stroke-width="1.9" stroke-linejoin="round"/>
<circle cx="214.80" cy="237.38" r="1.6" fill="#111111"/><circle cx="221.81" cy="223.30" r="1.6" fill="#111111"/><circle cx="229.52" cy="212.03" r="1.6" fill="#111111"/><circle cx="236.53" cy="203.58" r="1.6" fill="#111111"/><circle cx="244.94" cy="196.54" r="1.6" fill="#111111"/><circle cx="251.95" cy="193.02" r="1.6" fill="#111111"/><circle cx="257.56" cy="191.62" r="1.6" fill="#111111"/><circle cx="265.27" cy="190.91" r="1.6" fill="#111111"/><circle cx="274.10" cy="185.98" r="1.6" fill="#111111"/><circle cx="285.25" cy="181.90" r="1.6" fill="#111111"/><circle cx="292.96" cy="180.35" r="1.6" fill="#111111"/>
<polyline points="214.80,235.97 221.81,217.66 229.52,206.40 236.53,199.36 244.94,193.02 251.95,190.21 257.56,188.10 265.27,187.39 274.10,184.58 285.25,181.06 292.96,178.94" fill="none" stroke="#111111" stroke-width="1.9" stroke-linejoin="round"/>
<circle cx="214.80" cy="235.97" r="1.6" fill="#111111"/><circle cx="221.81" cy="217.66" r="1.6" fill="#111111"/><circle cx="229.52" cy="206.40" r="1.6" fill="#111111"/><circle cx="236.53" cy="199.36" r="1.6" fill="#111111"/><circle cx="244.94" cy="193.02" r="1.6" fill="#111111"/><circle cx="251.95" cy="190.21" r="1.6" fill="#111111"/><circle cx="257.56" cy="188.10" r="1.6" fill="#111111"/><circle cx="265.27" cy="187.39" r="1.6" fill="#111111"/><circle cx="274.10" cy="184.58" r="1.6" fill="#111111"/><circle cx="285.25" cy="181.06" r="1.6" fill="#111111"/><circle cx="292.96" cy="178.94" r="1.6" fill="#111111"/>
<polyline points="214.80,236.67 221.81,220.48 229.52,209.22 236.53,201.47 244.94,195.14 251.95,191.62 257.56,189.50 265.27,189.50 274.10,185.28 285.25,181.48 292.96,179.65" fill="none" stroke="#111111" stroke-width="1.9" stroke-linejoin="round"/>
<circle cx="214.80" cy="236.67" r="1.6" fill="#111111"/><circle cx="221.81" cy="220.48" r="1.6" fill="#111111"/><circle cx="229.52" cy="209.22" r="1.6" fill="#111111"/><circle cx="236.53" cy="201.47" r="1.6" fill="#111111"/><circle cx="244.94" cy="195.14" r="1.6" fill="#111111"/><circle cx="251.95" cy="191.62" r="1.6" fill="#111111"/><circle cx="257.56" cy="189.50" r="1.6" fill="#111111"/><circle cx="265.27" cy="189.50" r="1.6" fill="#111111"/><circle cx="274.10" cy="185.28" r="1.6" fill="#111111"/><circle cx="285.25" cy="181.48" r="1.6" fill="#111111"/><circle cx="292.96" cy="179.65" r="1.6" fill="#111111"/>
<polyline points="214.80,234.56 221.81,209.22 229.52,197.67 236.53,193.02 244.94,186.27 251.95,181.48 257.56,180.35 265.27,179.65 274.10,178.24 285.25,176.83 292.96,177.25" fill="none" stroke="#bb7c3a" stroke-width="1.9" stroke-linejoin="round"/>
<rect x="213.20" y="232.96" width="3.2" height="3.2" fill="#ecc9a0" stroke="#bb7c3a" stroke-width="0.8"/><rect x="220.21" y="207.62" width="3.2" height="3.2" fill="#ecc9a0" stroke="#bb7c3a" stroke-width="0.8"/><rect x="227.92" y="196.07" width="3.2" height="3.2" fill="#ecc9a0" stroke="#bb7c3a" stroke-width="0.8"/><rect x="234.93" y="191.42" width="3.2" height="3.2" fill="#ecc9a0" stroke="#bb7c3a" stroke-width="0.8"/><rect x="243.34" y="184.67" width="3.2" height="3.2" fill="#ecc9a0" stroke="#bb7c3a" stroke-width="0.8"/><rect x="250.35" y="179.88" width="3.2" height="3.2" fill="#ecc9a0" stroke="#bb7c3a" stroke-width="0.8"/><rect x="255.96" y="178.75" width="3.2" height="3.2" fill="#ecc9a0" stroke="#bb7c3a" stroke-width="0.8"/><rect x="263.67" y="178.05" width="3.2" height="3.2" fill="#ecc9a0" stroke="#bb7c3a" stroke-width="0.8"/><rect x="272.50" y="176.64" width="3.2" height="3.2" fill="#ecc9a0" stroke="#bb7c3a" stroke-width="0.8"/><rect x="283.65" y="175.23" width="3.2" height="3.2" fill="#ecc9a0" stroke="#bb7c3a" stroke-width="0.8"/><rect x="291.36" y="175.65" width="3.2" height="3.2" fill="#ecc9a0" stroke="#bb7c3a" stroke-width="0.8"/>
<polyline points="214.80,235.97 221.81,214.85 229.52,202.18 236.53,195.14 244.94,188.10 251.95,183.87 257.56,182.46 265.27,181.76 274.10,180.35 285.25,178.94 292.96,180.35" fill="none" stroke="#bb7c3a" stroke-width="1.9" stroke-linejoin="round"/>
<rect x="213.20" y="234.37" width="3.2" height="3.2" fill="#ecc9a0" stroke="#bb7c3a" stroke-width="0.8"/><rect x="220.21" y="213.25" width="3.2" height="3.2" fill="#ecc9a0" stroke="#bb7c3a" stroke-width="0.8"/><rect x="227.92" y="200.58" width="3.2" height="3.2" fill="#ecc9a0" stroke="#bb7c3a" stroke-width="0.8"/><rect x="234.93" y="193.54" width="3.2" height="3.2" fill="#ecc9a0" stroke="#bb7c3a" stroke-width="0.8"/><rect x="243.34" y="186.50" width="3.2" height="3.2" fill="#ecc9a0" stroke="#bb7c3a" stroke-width="0.8"/><rect x="250.35" y="182.27" width="3.2" height="3.2" fill="#ecc9a0" stroke="#bb7c3a" stroke-width="0.8"/><rect x="255.96" y="180.86" width="3.2" height="3.2" fill="#ecc9a0" stroke="#bb7c3a" stroke-width="0.8"/><rect x="263.67" y="180.16" width="3.2" height="3.2" fill="#ecc9a0" stroke="#bb7c3a" stroke-width="0.8"/><rect x="272.50" y="178.75" width="3.2" height="3.2" fill="#ecc9a0" stroke="#bb7c3a" stroke-width="0.8"/><rect x="283.65" y="177.34" width="3.2" height="3.2" fill="#ecc9a0" stroke="#bb7c3a" stroke-width="0.8"/><rect x="291.36" y="178.75" width="3.2" height="3.2" fill="#ecc9a0" stroke="#bb7c3a" stroke-width="0.8"/>
<polyline points="214.80,233.15 221.81,212.03 229.52,199.36 236.53,193.73 244.94,187.39 251.95,182.46 257.56,181.06 265.27,180.35 274.10,178.94 285.25,178.24 292.96,178.94" fill="none" stroke="#bb7c3a" stroke-width="1.9" stroke-linejoin="round"/>
<rect x="213.20" y="231.55" width="3.2" height="3.2" fill="#ecc9a0" stroke="#bb7c3a" stroke-width="0.8"/><rect x="220.21" y="210.43" width="3.2" height="3.2" fill="#ecc9a0" stroke="#bb7c3a" stroke-width="0.8"/><rect x="227.92" y="197.76" width="3.2" height="3.2" fill="#ecc9a0" stroke="#bb7c3a" stroke-width="0.8"/><rect x="234.93" y="192.13" width="3.2" height="3.2" fill="#ecc9a0" stroke="#bb7c3a" stroke-width="0.8"/><rect x="243.34" y="185.79" width="3.2" height="3.2" fill="#ecc9a0" stroke="#bb7c3a" stroke-width="0.8"/><rect x="250.35" y="180.86" width="3.2" height="3.2" fill="#ecc9a0" stroke="#bb7c3a" stroke-width="0.8"/><rect x="255.96" y="179.46" width="3.2" height="3.2" fill="#ecc9a0" stroke="#bb7c3a" stroke-width="0.8"/><rect x="263.67" y="178.75" width="3.2" height="3.2" fill="#ecc9a0" stroke="#bb7c3a" stroke-width="0.8"/><rect x="272.50" y="177.34" width="3.2" height="3.2" fill="#ecc9a0" stroke="#bb7c3a" stroke-width="0.8"/><rect x="283.65" y="176.64" width="3.2" height="3.2" fill="#ecc9a0" stroke="#bb7c3a" stroke-width="0.8"/><rect x="291.36" y="177.34" width="3.2" height="3.2" fill="#ecc9a0" stroke="#bb7c3a" stroke-width="0.8"/>
<polyline points="214.80,237.38 221.81,219.07 229.52,204.99 236.53,197.95 244.94,190.91 251.95,185.98 257.56,183.87 265.27,182.46 274.10,181.06 285.25,179.65 292.96,179.65" fill="none" stroke="#bb7c3a" stroke-width="1.9" stroke-linejoin="round"/>
<rect x="213.20" y="235.78" width="3.2" height="3.2" fill="#ecc9a0" stroke="#bb7c3a" stroke-width="0.8"/><rect x="220.21" y="217.47" width="3.2" height="3.2" fill="#ecc9a0" stroke="#bb7c3a" stroke-width="0.8"/><rect x="227.92" y="203.39" width="3.2" height="3.2" fill="#ecc9a0" stroke="#bb7c3a" stroke-width="0.8"/><rect x="234.93" y="196.35" width="3.2" height="3.2" fill="#ecc9a0" stroke="#bb7c3a" stroke-width="0.8"/><rect x="243.34" y="189.31" width="3.2" height="3.2" fill="#ecc9a0" stroke="#bb7c3a" stroke-width="0.8"/><rect x="250.35" y="184.38" width="3.2" height="3.2" fill="#ecc9a0" stroke="#bb7c3a" stroke-width="0.8"/><rect x="255.96" y="182.27" width="3.2" height="3.2" fill="#ecc9a0" stroke="#bb7c3a" stroke-width="0.8"/><rect x="263.67" y="180.86" width="3.2" height="3.2" fill="#ecc9a0" stroke="#bb7c3a" stroke-width="0.8"/><rect x="272.50" y="179.46" width="3.2" height="3.2" fill="#ecc9a0" stroke="#bb7c3a" stroke-width="0.8"/><rect x="283.65" y="178.05" width="3.2" height="3.2" fill="#ecc9a0" stroke="#bb7c3a" stroke-width="0.8"/><rect x="291.36" y="178.05" width="3.2" height="3.2" fill="#ecc9a0" stroke="#bb7c3a" stroke-width="0.8"/>
<polyline points="214.80,234.56 221.81,213.44 229.52,199.36 236.53,193.73 244.94,186.69 251.95,181.06 257.56,178.66 265.27,177.54 274.10,175.28 285.25,172.33 292.96,172.19" fill="none" stroke="#4a2c7c" stroke-width="1.3" stroke-linejoin="round"/>
<path d="M214.80 232.56 L216.70 235.86 L212.90 235.86 Z" fill="#4a2c7c"/><path d="M221.81 211.44 L223.71 214.74 L219.91 214.74 Z" fill="#4a2c7c"/><path d="M229.52 197.36 L231.42 200.66 L227.62 200.66 Z" fill="#4a2c7c"/><path d="M236.53 191.73 L238.43 195.03 L234.63 195.03 Z" fill="#4a2c7c"/><path d="M244.94 184.69 L246.84 187.99 L243.04 187.99 Z" fill="#4a2c7c"/><path d="M251.95 179.06 L253.85 182.36 L250.05 182.36 Z" fill="#4a2c7c"/><path d="M257.56 176.66 L259.46 179.96 L255.66 179.96 Z" fill="#4a2c7c"/><path d="M265.27 175.54 L267.17 178.84 L263.37 178.84 Z" fill="#4a2c7c"/><path d="M274.10 173.28 L276.00 176.58 L272.20 176.58 Z" fill="#4a2c7c"/><path d="M285.25 170.33 L287.15 173.63 L283.35 173.63 Z" fill="#4a2c7c"/><path d="M292.96 170.19 L294.86 173.49 L291.06 173.49 Z" fill="#4a2c7c"/>
<polyline points="214.80,235.97 221.81,216.26 229.52,200.77 236.53,194.43 244.94,187.39 251.95,182.46 257.56,181.06 265.27,202.88 274.10,178.24 285.25,175.42 292.96,174.02" fill="none" stroke="#4a2c7c" stroke-width="1.3" stroke-linejoin="round"/>
<path d="M214.80 233.97 L216.70 237.27 L212.90 237.27 Z" fill="#4a2c7c"/><path d="M221.81 214.26 L223.71 217.56 L219.91 217.56 Z" fill="#4a2c7c"/><path d="M229.52 198.77 L231.42 202.07 L227.62 202.07 Z" fill="#4a2c7c"/><path d="M236.53 192.43 L238.43 195.73 L234.63 195.73 Z" fill="#4a2c7c"/><path d="M244.94 185.39 L246.84 188.69 L243.04 188.69 Z" fill="#4a2c7c"/><path d="M251.95 180.46 L253.85 183.76 L250.05 183.76 Z" fill="#4a2c7c"/><path d="M257.56 179.06 L259.46 182.36 L255.66 182.36 Z" fill="#4a2c7c"/><path d="M265.27 200.88 L267.17 204.18 L263.37 204.18 Z" fill="#4a2c7c"/><path d="M274.10 176.24 L276.00 179.54 L272.20 179.54 Z" fill="#4a2c7c"/><path d="M285.25 173.42 L287.15 176.72 L283.35 176.72 Z" fill="#4a2c7c"/><path d="M292.96 172.02 L294.86 175.32 L291.06 175.32 Z" fill="#4a2c7c"/>
<path d="M381.10 168.70 V241.80 H488.40" fill="none" stroke="#555" stroke-width="1.0"/>
<line x1="378.30" y1="241.80" x2="381.10" y2="241.80" stroke="#333" stroke-width="0.8"/>
<text transform="translate(372.20,245.50)" font-size="8.1" text-anchor="end" fill="#1c1c1c">10</text><text x="375.40" y="243.10" font-size="4.9" text-anchor="end" fill="#555" style="stroke:none">6</text>
<line x1="378.30" y1="227.70" x2="381.10" y2="227.70" stroke="#333" stroke-width="0.8"/>
<text transform="translate(372.20,231.40)" font-size="8.1" text-anchor="end" fill="#1c1c1c">10</text><text x="375.40" y="229.00" font-size="4.9" text-anchor="end" fill="#555" style="stroke:none">7</text>
<line x1="378.30" y1="213.60" x2="381.10" y2="213.60" stroke="#333" stroke-width="0.8"/>
<text transform="translate(372.20,217.30)" font-size="8.1" text-anchor="end" fill="#1c1c1c">10</text><text x="375.40" y="214.90" font-size="4.9" text-anchor="end" fill="#555" style="stroke:none">8</text>
<line x1="378.30" y1="199.50" x2="381.10" y2="199.50" stroke="#333" stroke-width="0.8"/>
<text transform="translate(372.20,203.20)" font-size="8.1" text-anchor="end" fill="#1c1c1c">10</text><text x="375.40" y="200.80" font-size="4.9" text-anchor="end" fill="#555" style="stroke:none">9</text>
<line x1="378.30" y1="185.40" x2="381.10" y2="185.40" stroke="#333" stroke-width="0.8"/>
<text transform="translate(369.60,189.10)" font-size="8.1" text-anchor="end" fill="#1c1c1c">10</text><text x="375.40" y="186.70" font-size="4.9" text-anchor="end" fill="#555" style="stroke:none">10</text>
<line x1="378.30" y1="171.30" x2="381.10" y2="171.30" stroke="#333" stroke-width="0.8"/>
<text transform="translate(369.60,175.00)" font-size="8.1" text-anchor="end" fill="#1c1c1c">10</text><text x="375.40" y="172.60" font-size="4.9" text-anchor="end" fill="#555" style="stroke:none">11</text>
<line x1="381.10" y1="241.80" x2="381.10" y2="244.40" stroke="#333" stroke-width="0.8"/>
<text transform="translate(381.10,253.60) scale(0.9259,1)" font-size="8.64" text-anchor="middle" fill="#1c1c1c" font-weight="normal" >0</text>
<line x1="416.25" y1="241.80" x2="416.25" y2="244.40" stroke="#333" stroke-width="0.8"/>
<text transform="translate(416.25,253.60) scale(0.9259,1)" font-size="8.64" text-anchor="middle" fill="#1c1c1c" font-weight="normal" >5</text>
<line x1="451.40" y1="241.80" x2="451.40" y2="244.40" stroke="#333" stroke-width="0.8"/>
<text transform="translate(451.40,253.60) scale(0.9259,1)" font-size="8.64" text-anchor="middle" fill="#1c1c1c" font-weight="normal" >10</text>
<line x1="486.55" y1="241.80" x2="486.55" y2="244.40" stroke="#333" stroke-width="0.8"/>
<text transform="translate(486.55,253.60) scale(0.9259,1)" font-size="8.64" text-anchor="middle" fill="#1c1c1c" font-weight="normal" >15</text>
<text transform="translate(434.00,166.00) scale(0.9259,1)" font-size="8.64" text-anchor="middle" fill="#1c1c1c" font-weight="normal" >ETP1</text>
<text x="434.60" y="266.80" font-size="9.4" font-weight="normal" text-anchor="middle" fill="#1c1c1c" style="stroke-width:0.55px" textLength="17.0" lengthAdjust="spacingAndGlyphs">Week</text>
<text transform="translate(354.20,206.00) rotate(-90)" x="0" y="0" font-size="8.9" font-weight="normal" text-anchor="middle" fill="#1c1c1c" style="stroke-width:0.45px" textLength="47.5" lengthAdjust="spacingAndGlyphs">Radiance p/sec</text>
<polyline points="381.10,227.00 390.59,224.88 395.86,213.60 402.89,205.14 409.92,199.64 416.95,194.71 425.39,192.17 433.12,189.63 441.56,186.53 449.29,184.55" fill="none" stroke="#111111" stroke-width="2.6" stroke-linejoin="round" stroke-linecap="round"/>
<polyline points="381.10,227.70 390.59,227.00 395.86,222.06 402.89,215.01 409.92,207.96 416.95,200.35 425.39,196.82 433.12,192.73 441.56,188.64 449.29,184.98" fill="none" stroke="#111111" stroke-width="2.6" stroke-linejoin="round" stroke-linecap="round"/>
<polyline points="381.10,216.42 390.59,205.14 395.86,199.50 402.89,191.04 409.92,185.40 416.95,180.47 425.39,179.76 433.12,181.17 441.56,179.06 449.29,176.94" fill="none" stroke="#bb7c3a" stroke-width="2.6" stroke-linejoin="round" stroke-linecap="round"/>
<polyline points="381.10,222.06 390.59,215.01 395.86,206.55 402.89,198.09 409.92,191.04 416.95,183.99 425.39,181.88 433.12,182.58 441.56,180.47 449.29,178.35" fill="none" stroke="#bb7c3a" stroke-width="2.6" stroke-linejoin="round" stroke-linecap="round"/>
<polyline points="381.10,224.88 390.59,228.41 395.86,209.37 402.89,200.91 409.92,192.45 416.95,186.81 425.39,183.99 433.12,183.99 441.56,181.17 449.29,179.06" fill="none" stroke="#bb7c3a" stroke-width="2.6" stroke-linejoin="round" stroke-linecap="round"/>
<polyline points="381.10,219.24 390.59,209.37 395.86,202.32 402.89,193.86 409.92,187.52 416.95,181.88 425.39,181.17 433.12,181.88 441.56,179.76 449.29,177.64" fill="none" stroke="#bb7c3a" stroke-width="2.6" stroke-linejoin="round" stroke-linecap="round"/>
<polyline points="381.10,226.29 390.59,220.65 395.86,215.01 402.89,214.31 409.92,213.60 416.95,205.99 425.39,199.78 433.12,194.71 441.56,188.64 449.29,185.54" fill="none" stroke="#2f9e37" stroke-width="1.7" stroke-linejoin="round"/>
<path d="M381.10 224.29 L383.00 227.59 L379.20 227.59 Z" fill="#e9f5e9" stroke="#2f9e37" stroke-width="0.75"/><path d="M390.59 218.65 L392.49 221.95 L388.69 221.95 Z" fill="#e9f5e9" stroke="#2f9e37" stroke-width="0.75"/><path d="M395.86 213.01 L397.76 216.31 L393.96 216.31 Z" fill="#e9f5e9" stroke="#2f9e37" stroke-width="0.75"/><path d="M402.89 212.31 L404.79 215.61 L400.99 215.61 Z" fill="#e9f5e9" stroke="#2f9e37" stroke-width="0.75"/><path d="M409.92 211.60 L411.82 214.90 L408.02 214.90 Z" fill="#e9f5e9" stroke="#2f9e37" stroke-width="0.75"/><path d="M416.95 203.99 L418.85 207.29 L415.05 207.29 Z" fill="#e9f5e9" stroke="#2f9e37" stroke-width="0.75"/><path d="M425.39 197.78 L427.29 201.08 L423.49 201.08 Z" fill="#e9f5e9" stroke="#2f9e37" stroke-width="0.75"/><path d="M433.12 192.71 L435.02 196.01 L431.22 196.01 Z" fill="#e9f5e9" stroke="#2f9e37" stroke-width="0.75"/><path d="M441.56 186.64 L443.46 189.94 L439.66 189.94 Z" fill="#e9f5e9" stroke="#2f9e37" stroke-width="0.75"/><path d="M449.29 183.54 L451.19 186.84 L447.39 186.84 Z" fill="#e9f5e9" stroke="#2f9e37" stroke-width="0.75"/>
<polyline points="381.10,227.70 390.59,223.47 395.86,221.36 402.89,222.77 409.92,220.65 416.95,217.27 425.39,214.16 433.12,203.87 441.56,196.82 449.29,196.82" fill="none" stroke="#2f9e37" stroke-width="1.7" stroke-linejoin="round"/>
<path d="M381.10 225.70 L383.00 229.00 L379.20 229.00 Z" fill="#e9f5e9" stroke="#2f9e37" stroke-width="0.75"/><path d="M390.59 221.47 L392.49 224.77 L388.69 224.77 Z" fill="#e9f5e9" stroke="#2f9e37" stroke-width="0.75"/><path d="M395.86 219.36 L397.76 222.66 L393.96 222.66 Z" fill="#e9f5e9" stroke="#2f9e37" stroke-width="0.75"/><path d="M402.89 220.77 L404.79 224.07 L400.99 224.07 Z" fill="#e9f5e9" stroke="#2f9e37" stroke-width="0.75"/><path d="M409.92 218.65 L411.82 221.95 L408.02 221.95 Z" fill="#e9f5e9" stroke="#2f9e37" stroke-width="0.75"/><path d="M416.95 215.27 L418.85 218.57 L415.05 218.57 Z" fill="#e9f5e9" stroke="#2f9e37" stroke-width="0.75"/><path d="M425.39 212.16 L427.29 215.46 L423.49 215.46 Z" fill="#e9f5e9" stroke="#2f9e37" stroke-width="0.75"/><path d="M433.12 201.87 L435.02 205.17 L431.22 205.17 Z" fill="#e9f5e9" stroke="#2f9e37" stroke-width="0.75"/><path d="M441.56 194.82 L443.46 198.12 L439.66 198.12 Z" fill="#e9f5e9" stroke="#2f9e37" stroke-width="0.75"/><path d="M449.29 194.82 L451.19 198.12 L447.39 198.12 Z" fill="#e9f5e9" stroke="#2f9e37" stroke-width="0.75"/>
<polyline points="381.10,227.00 390.59,222.06 395.86,217.12 402.89,217.83 409.92,217.12 416.95,212.19 425.39,206.55 433.12,199.50 441.56,192.45 449.29,191.04" fill="none" stroke="#2f9e37" stroke-width="1.7" stroke-linejoin="round"/>
<path d="M381.10 225.00 L383.00 228.30 L379.20 228.30 Z" fill="#e9f5e9" stroke="#2f9e37" stroke-width="0.75"/><path d="M390.59 220.06 L392.49 223.36 L388.69 223.36 Z" fill="#e9f5e9" stroke="#2f9e37" stroke-width="0.75"/><path d="M395.86 215.12 L397.76 218.43 L393.96 218.43 Z" fill="#e9f5e9" stroke="#2f9e37" stroke-width="0.75"/><path d="M402.89 215.83 L404.79 219.13 L400.99 219.13 Z" fill="#e9f5e9" stroke="#2f9e37" stroke-width="0.75"/><path d="M409.92 215.12 L411.82 218.43 L408.02 218.43 Z" fill="#e9f5e9" stroke="#2f9e37" stroke-width="0.75"/><path d="M416.95 210.19 L418.85 213.49 L415.05 213.49 Z" fill="#e9f5e9" stroke="#2f9e37" stroke-width="0.75"/><path d="M425.39 204.55 L427.29 207.85 L423.49 207.85 Z" fill="#e9f5e9" stroke="#2f9e37" stroke-width="0.75"/><path d="M433.12 197.50 L435.02 200.80 L431.22 200.80 Z" fill="#e9f5e9" stroke="#2f9e37" stroke-width="0.75"/><path d="M441.56 190.45 L443.46 193.75 L439.66 193.75 Z" fill="#e9f5e9" stroke="#2f9e37" stroke-width="0.75"/><path d="M449.29 189.04 L451.19 192.34 L447.39 192.34 Z" fill="#e9f5e9" stroke="#2f9e37" stroke-width="0.75"/>
<polyline points="381.10,227.70 390.59,222.77 395.86,219.24 402.89,219.95 409.92,219.24 416.95,209.37 425.39,203.73 433.12,196.68 441.56,191.04 449.29,188.22" fill="none" stroke="#2f9e37" stroke-width="1.7" stroke-linejoin="round"/>
<path d="M381.10 225.70 L383.00 229.00 L379.20 229.00 Z" fill="#e9f5e9" stroke="#2f9e37" stroke-width="0.75"/><path d="M390.59 220.77 L392.49 224.07 L388.69 224.07 Z" fill="#e9f5e9" stroke="#2f9e37" stroke-width="0.75"/><path d="M395.86 217.24 L397.76 220.54 L393.96 220.54 Z" fill="#e9f5e9" stroke="#2f9e37" stroke-width="0.75"/><path d="M402.89 217.95 L404.79 221.25 L400.99 221.25 Z" fill="#e9f5e9" stroke="#2f9e37" stroke-width="0.75"/><path d="M409.92 217.24 L411.82 220.54 L408.02 220.54 Z" fill="#e9f5e9" stroke="#2f9e37" stroke-width="0.75"/><path d="M416.95 207.37 L418.85 210.67 L415.05 210.67 Z" fill="#e9f5e9" stroke="#2f9e37" stroke-width="0.75"/><path d="M425.39 201.73 L427.29 205.03 L423.49 205.03 Z" fill="#e9f5e9" stroke="#2f9e37" stroke-width="0.75"/><path d="M433.12 194.68 L435.02 197.98 L431.22 197.98 Z" fill="#e9f5e9" stroke="#2f9e37" stroke-width="0.75"/><path d="M441.56 189.04 L443.46 192.34 L439.66 192.34 Z" fill="#e9f5e9" stroke="#2f9e37" stroke-width="0.75"/><path d="M449.29 186.22 L451.19 189.52 L447.39 189.52 Z" fill="#e9f5e9" stroke="#2f9e37" stroke-width="0.75"/>
<polyline points="381.10,227.00 390.59,224.88 395.86,213.60 402.89,205.14 409.92,199.64 416.95,194.71 425.39,192.17 433.12,189.63 441.56,186.53 449.29,184.55" fill="none" stroke="#111111" stroke-width="1.9" stroke-linejoin="round"/>
<circle cx="381.10" cy="227.00" r="1.6" fill="#111111"/><circle cx="390.59" cy="224.88" r="1.6" fill="#111111"/><circle cx="395.86" cy="213.60" r="1.6" fill="#111111"/><circle cx="402.89" cy="205.14" r="1.6" fill="#111111"/><circle cx="409.92" cy="199.64" r="1.6" fill="#111111"/><circle cx="416.95" cy="194.71" r="1.6" fill="#111111"/><circle cx="425.39" cy="192.17" r="1.6" fill="#111111"/><circle cx="433.12" cy="189.63" r="1.6" fill="#111111"/><circle cx="441.56" cy="186.53" r="1.6" fill="#111111"/><circle cx="449.29" cy="184.55" r="1.6" fill="#111111"/>
<polyline points="381.10,227.70 390.59,227.00 395.86,222.06 402.89,215.01 409.92,207.96 416.95,200.35 425.39,196.82 433.12,192.73 441.56,188.64 449.29,184.98" fill="none" stroke="#111111" stroke-width="1.9" stroke-linejoin="round"/>
<circle cx="381.10" cy="227.70" r="1.6" fill="#111111"/><circle cx="390.59" cy="227.00" r="1.6" fill="#111111"/><circle cx="395.86" cy="222.06" r="1.6" fill="#111111"/><circle cx="402.89" cy="215.01" r="1.6" fill="#111111"/><circle cx="409.92" cy="207.96" r="1.6" fill="#111111"/><circle cx="416.95" cy="200.35" r="1.6" fill="#111111"/><circle cx="425.39" cy="196.82" r="1.6" fill="#111111"/><circle cx="433.12" cy="192.73" r="1.6" fill="#111111"/><circle cx="441.56" cy="188.64" r="1.6" fill="#111111"/><circle cx="449.29" cy="184.98" r="1.6" fill="#111111"/>
<polyline points="381.10,220.65 390.59,207.96 395.86,200.91 402.89,192.45 409.92,184.69 416.95,179.48 425.39,178.35 433.12,181.88 441.56,179.76 449.29,178.35" fill="none" stroke="#4a2c7c" stroke-width="1.3" stroke-linejoin="round"/>
<path d="M381.10 218.65 L383.00 221.95 L379.20 221.95 Z" fill="#4a2c7c"/><path d="M390.59 205.96 L392.49 209.26 L388.69 209.26 Z" fill="#4a2c7c"/><path d="M395.86 198.91 L397.76 202.21 L393.96 202.21 Z" fill="#4a2c7c"/><path d="M402.89 190.45 L404.79 193.75 L400.99 193.75 Z" fill="#4a2c7c"/><path d="M409.92 182.69 L411.82 186.00 L408.02 186.00 Z" fill="#4a2c7c"/><path d="M416.95 177.48 L418.85 180.78 L415.05 180.78 Z" fill="#4a2c7c"/><path d="M425.39 176.35 L427.29 179.65 L423.49 179.65 Z" fill="#4a2c7c"/><path d="M433.12 179.88 L435.02 183.18 L431.22 183.18 Z" fill="#4a2c7c"/><path d="M441.56 177.76 L443.46 181.06 L439.66 181.06 Z" fill="#4a2c7c"/><path d="M449.29 176.35 L451.19 179.65 L447.39 179.65 Z" fill="#4a2c7c"/>
<polyline points="381.10,216.42 390.59,205.14 395.86,199.50 402.89,191.04 409.92,185.40 416.95,180.47 425.39,179.76 433.12,181.17 441.56,179.06 449.29,176.94" fill="none" stroke="#bb7c3a" stroke-width="1.9" stroke-linejoin="round"/>
<rect x="379.50" y="214.82" width="3.2" height="3.2" fill="#ecc9a0" stroke="#bb7c3a" stroke-width="0.8"/><rect x="388.99" y="203.54" width="3.2" height="3.2" fill="#ecc9a0" stroke="#bb7c3a" stroke-width="0.8"/><rect x="394.26" y="197.90" width="3.2" height="3.2" fill="#ecc9a0" stroke="#bb7c3a" stroke-width="0.8"/><rect x="401.29" y="189.44" width="3.2" height="3.2" fill="#ecc9a0" stroke="#bb7c3a" stroke-width="0.8"/><rect x="408.32" y="183.80" width="3.2" height="3.2" fill="#ecc9a0" stroke="#bb7c3a" stroke-width="0.8"/><rect x="415.35" y="178.87" width="3.2" height="3.2" fill="#ecc9a0" stroke="#bb7c3a" stroke-width="0.8"/><rect x="423.79" y="178.16" width="3.2" height="3.2" fill="#ecc9a0" stroke="#bb7c3a" stroke-width="0.8"/><rect x="431.52" y="179.57" width="3.2" height="3.2" fill="#ecc9a0" stroke="#bb7c3a" stroke-width="0.8"/><rect x="439.96" y="177.46" width="3.2" height="3.2" fill="#ecc9a0" stroke="#bb7c3a" stroke-width="0.8"/><rect x="447.69" y="175.34" width="3.2" height="3.2" fill="#ecc9a0" stroke="#bb7c3a" stroke-width="0.8"/>
<polyline points="381.10,222.06 390.59,215.01 395.86,206.55 402.89,198.09 409.92,191.04 416.95,183.99 425.39,181.88 433.12,182.58 441.56,180.47 449.29,178.35" fill="none" stroke="#bb7c3a" stroke-width="1.9" stroke-linejoin="round"/>
<rect x="379.50" y="220.46" width="3.2" height="3.2" fill="#ecc9a0" stroke="#bb7c3a" stroke-width="0.8"/><rect x="388.99" y="213.41" width="3.2" height="3.2" fill="#ecc9a0" stroke="#bb7c3a" stroke-width="0.8"/><rect x="394.26" y="204.95" width="3.2" height="3.2" fill="#ecc9a0" stroke="#bb7c3a" stroke-width="0.8"/><rect x="401.29" y="196.49" width="3.2" height="3.2" fill="#ecc9a0" stroke="#bb7c3a" stroke-width="0.8"/><rect x="408.32" y="189.44" width="3.2" height="3.2" fill="#ecc9a0" stroke="#bb7c3a" stroke-width="0.8"/><rect x="415.35" y="182.39" width="3.2" height="3.2" fill="#ecc9a0" stroke="#bb7c3a" stroke-width="0.8"/><rect x="423.79" y="180.28" width="3.2" height="3.2" fill="#ecc9a0" stroke="#bb7c3a" stroke-width="0.8"/><rect x="431.52" y="180.98" width="3.2" height="3.2" fill="#ecc9a0" stroke="#bb7c3a" stroke-width="0.8"/><rect x="439.96" y="178.87" width="3.2" height="3.2" fill="#ecc9a0" stroke="#bb7c3a" stroke-width="0.8"/><rect x="447.69" y="176.75" width="3.2" height="3.2" fill="#ecc9a0" stroke="#bb7c3a" stroke-width="0.8"/>
<polyline points="381.10,224.88 390.59,228.41 395.86,209.37 402.89,200.91 409.92,192.45 416.95,186.81 425.39,183.99 433.12,183.99 441.56,181.17 449.29,179.06" fill="none" stroke="#bb7c3a" stroke-width="1.9" stroke-linejoin="round"/>
<rect x="379.50" y="223.28" width="3.2" height="3.2" fill="#ecc9a0" stroke="#bb7c3a" stroke-width="0.8"/><rect x="388.99" y="226.81" width="3.2" height="3.2" fill="#ecc9a0" stroke="#bb7c3a" stroke-width="0.8"/><rect x="394.26" y="207.77" width="3.2" height="3.2" fill="#ecc9a0" stroke="#bb7c3a" stroke-width="0.8"/><rect x="401.29" y="199.31" width="3.2" height="3.2" fill="#ecc9a0" stroke="#bb7c3a" stroke-width="0.8"/><rect x="408.32" y="190.85" width="3.2" height="3.2" fill="#ecc9a0" stroke="#bb7c3a" stroke-width="0.8"/><rect x="415.35" y="185.21" width="3.2" height="3.2" fill="#ecc9a0" stroke="#bb7c3a" stroke-width="0.8"/><rect x="423.79" y="182.39" width="3.2" height="3.2" fill="#ecc9a0" stroke="#bb7c3a" stroke-width="0.8"/><rect x="431.52" y="182.39" width="3.2" height="3.2" fill="#ecc9a0" stroke="#bb7c3a" stroke-width="0.8"/><rect x="439.96" y="179.57" width="3.2" height="3.2" fill="#ecc9a0" stroke="#bb7c3a" stroke-width="0.8"/><rect x="447.69" y="177.46" width="3.2" height="3.2" fill="#ecc9a0" stroke="#bb7c3a" stroke-width="0.8"/>
<polyline points="381.10,219.24 390.59,209.37 395.86,202.32 402.89,193.86 409.92,187.52 416.95,181.88 425.39,181.17 433.12,181.88 441.56,179.76 449.29,177.64" fill="none" stroke="#bb7c3a" stroke-width="1.9" stroke-linejoin="round"/>
<rect x="379.50" y="217.64" width="3.2" height="3.2" fill="#ecc9a0" stroke="#bb7c3a" stroke-width="0.8"/><rect x="388.99" y="207.77" width="3.2" height="3.2" fill="#ecc9a0" stroke="#bb7c3a" stroke-width="0.8"/><rect x="394.26" y="200.72" width="3.2" height="3.2" fill="#ecc9a0" stroke="#bb7c3a" stroke-width="0.8"/><rect x="401.29" y="192.26" width="3.2" height="3.2" fill="#ecc9a0" stroke="#bb7c3a" stroke-width="0.8"/><rect x="408.32" y="185.92" width="3.2" height="3.2" fill="#ecc9a0" stroke="#bb7c3a" stroke-width="0.8"/><rect x="415.35" y="180.28" width="3.2" height="3.2" fill="#ecc9a0" stroke="#bb7c3a" stroke-width="0.8"/><rect x="423.79" y="179.57" width="3.2" height="3.2" fill="#ecc9a0" stroke="#bb7c3a" stroke-width="0.8"/><rect x="431.52" y="180.28" width="3.2" height="3.2" fill="#ecc9a0" stroke="#bb7c3a" stroke-width="0.8"/><rect x="439.96" y="178.16" width="3.2" height="3.2" fill="#ecc9a0" stroke="#bb7c3a" stroke-width="0.8"/><rect x="447.69" y="176.04" width="3.2" height="3.2" fill="#ecc9a0" stroke="#bb7c3a" stroke-width="0.8"/>
<path d="M46.00 290.50 V364.20 H153.00" fill="none" stroke="#555" stroke-width="1.0"/>
<line x1="43.20" y1="364.20" x2="46.00" y2="364.20" stroke="#333" stroke-width="0.8"/>
<text transform="translate(37.10,367.90)" font-size="8.1" text-anchor="end" fill="#1c1c1c">10</text><text x="40.30" y="365.50" font-size="4.9" text-anchor="end" fill="#555" style="stroke:none">5</text>
<line x1="43.20" y1="352.35" x2="46.00" y2="352.35" stroke="#333" stroke-width="0.8"/>
<text transform="translate(37.10,356.05)" font-size="8.1" text-anchor="end" fill="#1c1c1c">10</text><text x="40.30" y="353.65" font-size="4.9" text-anchor="end" fill="#555" style="stroke:none">6</text>
<line x1="43.20" y1="340.50" x2="46.00" y2="340.50" stroke="#333" stroke-width="0.8"/>
<text transform="translate(37.10,344.20)" font-size="8.1" text-anchor="end" fill="#1c1c1c">10</text><text x="40.30" y="341.80" font-size="4.9" text-anchor="end" fill="#555" style="stroke:none">7</text>
<line x1="43.20" y1="328.65" x2="46.00" y2="328.65" stroke="#333" stroke-width="0.8"/>
<text transform="translate(37.10,332.35)" font-size="8.1" text-anchor="end" fill="#1c1c1c">10</text><text x="40.30" y="329.95" font-size="4.9" text-anchor="end" fill="#555" style="stroke:none">8</text>
<line x1="43.20" y1="316.80" x2="46.00" y2="316.80" stroke="#333" stroke-width="0.8"/>
<text transform="translate(37.10,320.50)" font-size="8.1" text-anchor="end" fill="#1c1c1c">10</text><text x="40.30" y="318.10" font-size="4.9" text-anchor="end" fill="#555" style="stroke:none">9</text>
<line x1="43.20" y1="304.95" x2="46.00" y2="304.95" stroke="#333" stroke-width="0.8"/>
<text transform="translate(34.50,308.65)" font-size="8.1" text-anchor="end" fill="#1c1c1c">10</text><text x="40.30" y="306.25" font-size="4.9" text-anchor="end" fill="#555" style="stroke:none">10</text>
<line x1="43.20" y1="293.10" x2="46.00" y2="293.10" stroke="#333" stroke-width="0.8"/>
<text transform="translate(34.50,296.80)" font-size="8.1" text-anchor="end" fill="#1c1c1c">10</text><text x="40.30" y="294.40" font-size="4.9" text-anchor="end" fill="#555" style="stroke:none">11</text>
<line x1="46.00" y1="364.20" x2="46.00" y2="366.80" stroke="#333" stroke-width="0.8"/>
<text transform="translate(46.00,376.00) scale(0.9259,1)" font-size="8.64" text-anchor="middle" fill="#1c1c1c" font-weight="normal" >0</text>
<line x1="72.40" y1="364.20" x2="72.40" y2="366.80" stroke="#333" stroke-width="0.8"/>
<text transform="translate(72.40,376.00) scale(0.9259,1)" font-size="8.64" text-anchor="middle" fill="#1c1c1c" font-weight="normal" >2</text>
<line x1="98.80" y1="364.20" x2="98.80" y2="366.80" stroke="#333" stroke-width="0.8"/>
<text transform="translate(98.80,376.00) scale(0.9259,1)" font-size="8.64" text-anchor="middle" fill="#1c1c1c" font-weight="normal" >4</text>
<line x1="125.20" y1="364.20" x2="125.20" y2="366.80" stroke="#333" stroke-width="0.8"/>
<text transform="translate(125.20,376.00) scale(0.9259,1)" font-size="8.64" text-anchor="middle" fill="#1c1c1c" font-weight="normal" >6</text>
<line x1="151.60" y1="364.20" x2="151.60" y2="366.80" stroke="#333" stroke-width="0.8"/>
<text transform="translate(151.60,376.00) scale(0.9259,1)" font-size="8.64" text-anchor="middle" fill="#1c1c1c" font-weight="normal" >8</text>
<text transform="translate(98.30,288.60) scale(0.9259,1)" font-size="8.64" text-anchor="middle" fill="#1c1c1c" font-weight="normal" >ALL33</text>
<text x="98.80" y="389.20" font-size="9.4" font-weight="normal" text-anchor="middle" fill="#1c1c1c" style="stroke-width:0.55px" textLength="17.0" lengthAdjust="spacingAndGlyphs">Week</text>
<text transform="translate(19.40,328.70) rotate(-90)" x="0" y="0" font-size="8.9" font-weight="normal" text-anchor="middle" fill="#1c1c1c" style="stroke-width:0.45px" textLength="47.5" lengthAdjust="spacingAndGlyphs">Radiance p/sec</text>
<polyline points="46.00,336.94 63.82,313.25 78.34,307.91" fill="none" stroke="#111111" stroke-width="2.6" stroke-linejoin="round" stroke-linecap="round"/>
<polyline points="46.00,339.31 63.82,312.06 78.34,306.13" fill="none" stroke="#111111" stroke-width="2.6" stroke-linejoin="round" stroke-linecap="round"/>
<polyline points="46.00,332.20 63.82,310.88 78.34,304.95" fill="none" stroke="#111111" stroke-width="2.6" stroke-linejoin="round" stroke-linecap="round"/>
<polyline points="46.00,333.39 63.82,308.39 78.34,299.74" fill="none" stroke="#bb7c3a" stroke-width="2.6" stroke-linejoin="round" stroke-linecap="round"/>
<polyline points="46.00,340.50 63.82,317.99 78.34,304.95" fill="none" stroke="#bb7c3a" stroke-width="2.6" stroke-linejoin="round" stroke-linecap="round"/>
<polyline points="46.00,329.83 63.82,309.69 78.34,301.39" fill="none" stroke="#bb7c3a" stroke-width="2.6" stroke-linejoin="round" stroke-linecap="round"/>
<polyline points="46.00,336.94 63.82,310.88 78.34,302.58" fill="none" stroke="#bb7c3a" stroke-width="2.6" stroke-linejoin="round" stroke-linecap="round"/>
<polyline points="46.00,335.05 63.82,314.55 77.68,321.18 105.40,354.60 118.60,350.69 131.80,344.17 145.00,331.49" fill="none" stroke="#2f9e37" stroke-width="2.0" stroke-linejoin="round"/>
<path d="M46.00 333.05 L47.90 336.35 L44.10 336.35 Z" fill="#e9f5e9" stroke="#2f9e37" stroke-width="0.75"/><path d="M63.82 312.55 L65.72 315.85 L61.92 315.85 Z" fill="#e9f5e9" stroke="#2f9e37" stroke-width="0.75"/><path d="M77.68 319.18 L79.58 322.48 L75.78 322.48 Z" fill="#e9f5e9" stroke="#2f9e37" stroke-width="0.75"/><path d="M105.40 352.60 L107.30 355.90 L103.50 355.90 Z" fill="#e9f5e9" stroke="#2f9e37" stroke-width="0.75"/><path d="M118.60 348.69 L120.50 351.99 L116.70 351.99 Z" fill="#e9f5e9" stroke="#2f9e37" stroke-width="0.75"/><path d="M131.80 342.17 L133.70 345.47 L129.90 345.47 Z" fill="#e9f5e9" stroke="#2f9e37" stroke-width="0.75"/><path d="M145.00 329.49 L146.90 332.79 L143.10 332.79 Z" fill="#e9f5e9" stroke="#2f9e37" stroke-width="0.75"/>
<polyline points="46.00,336.94 63.82,323.79 77.68,323.91 105.40,355.31 118.60,351.17 131.80,349.98 145.00,344.17" fill="none" stroke="#2f9e37" stroke-width="2.0" stroke-linejoin="round"/>
<path d="M46.00 334.94 L47.90 338.25 L44.10 338.25 Z" fill="#e9f5e9" stroke="#2f9e37" stroke-width="0.75"/><path d="M63.82 321.79 L65.72 325.09 L61.92 325.09 Z" fill="#e9f5e9" stroke="#2f9e37" stroke-width="0.75"/><path d="M77.68 321.91 L79.58 325.21 L75.78 325.21 Z" fill="#e9f5e9" stroke="#2f9e37" stroke-width="0.75"/><path d="M105.40 353.31 L107.30 356.61 L103.50 356.61 Z" fill="#e9f5e9" stroke="#2f9e37" stroke-width="0.75"/><path d="M118.60 349.17 L120.50 352.47 L116.70 352.47 Z" fill="#e9f5e9" stroke="#2f9e37" stroke-width="0.75"/><path d="M131.80 347.98 L133.70 351.28 L129.90 351.28 Z" fill="#e9f5e9" stroke="#2f9e37" stroke-width="0.75"/><path d="M145.00 342.17 L146.90 345.47 L143.10 345.47 Z" fill="#e9f5e9" stroke="#2f9e37" stroke-width="0.75"/>
<polyline points="46.00,333.39 63.82,325.33 77.68,337.06 105.40,354.13 118.60,349.98 131.80,347.61 145.00,346.54" fill="none" stroke="#2f9e37" stroke-width="2.0" stroke-linejoin="round"/>
<path d="M46.00 331.39 L47.90 334.69 L44.10 334.69 Z" fill="#e9f5e9" stroke="#2f9e37" stroke-width="0.75"/><path d="M63.82 323.33 L65.72 326.63 L61.92 326.63 Z" fill="#e9f5e9" stroke="#2f9e37" stroke-width="0.75"/><path d="M77.68 335.06 L79.58 338.36 L75.78 338.36 Z" fill="#e9f5e9" stroke="#2f9e37" stroke-width="0.75"/><path d="M105.40 352.13 L107.30 355.43 L103.50 355.43 Z" fill="#e9f5e9" stroke="#2f9e37" stroke-width="0.75"/><path d="M118.60 347.98 L120.50 351.28 L116.70 351.28 Z" fill="#e9f5e9" stroke="#2f9e37" stroke-width="0.75"/><path d="M131.80 345.61 L133.70 348.91 L129.90 348.91 Z" fill="#e9f5e9" stroke="#2f9e37" stroke-width="0.75"/><path d="M145.00 344.54 L146.90 347.84 L143.10 347.84 Z" fill="#e9f5e9" stroke="#2f9e37" stroke-width="0.75"/>
<polyline points="46.00,335.76 63.82,317.99 77.68,328.65 105.40,353.53" fill="none" stroke="#2f9e37" stroke-width="2.0" stroke-linejoin="round"/>
<path d="M46.00 333.76 L47.90 337.06 L44.10 337.06 Z" fill="#e9f5e9" stroke="#2f9e37" stroke-width="0.75"/><path d="M63.82 315.99 L65.72 319.29 L61.92 319.29 Z" fill="#e9f5e9" stroke="#2f9e37" stroke-width="0.75"/><path d="M77.68 326.65 L79.58 329.95 L75.78 329.95 Z" fill="#e9f5e9" stroke="#2f9e37" stroke-width="0.75"/><path d="M105.40 351.53 L107.30 354.83 L103.50 354.83 Z" fill="#e9f5e9" stroke="#2f9e37" stroke-width="0.75"/>
<polyline points="46.00,336.94 63.82,313.25 78.34,307.91" fill="none" stroke="#111111" stroke-width="1.9" stroke-linejoin="round"/>
<circle cx="46.00" cy="336.94" r="1.6" fill="#111111"/><circle cx="63.82" cy="313.25" r="1.6" fill="#111111"/><circle cx="78.34" cy="307.91" r="1.6" fill="#111111"/>
<polyline points="46.00,339.31 63.82,312.06 78.34,306.13" fill="none" stroke="#111111" stroke-width="1.9" stroke-linejoin="round"/>
<circle cx="46.00" cy="339.31" r="1.6" fill="#111111"/><circle cx="63.82" cy="312.06" r="1.6" fill="#111111"/><circle cx="78.34" cy="306.13" r="1.6" fill="#111111"/>
<polyline points="46.00,332.20 63.82,310.88 78.34,304.95" fill="none" stroke="#111111" stroke-width="1.9" stroke-linejoin="round"/>
<circle cx="46.00" cy="332.20" r="1.6" fill="#111111"/><circle cx="63.82" cy="310.88" r="1.6" fill="#111111"/><circle cx="78.34" cy="304.95" r="1.6" fill="#111111"/>
<polyline points="46.00,333.39 63.82,308.39 78.34,299.74" fill="none" stroke="#bb7c3a" stroke-width="1.9" stroke-linejoin="round"/>
<rect x="44.40" y="331.79" width="3.2" height="3.2" fill="#ecc9a0" stroke="#bb7c3a" stroke-width="0.8"/><rect x="62.22" y="306.79" width="3.2" height="3.2" fill="#ecc9a0" stroke="#bb7c3a" stroke-width="0.8"/><rect x="76.74" y="298.14" width="3.2" height="3.2" fill="#ecc9a0" stroke="#bb7c3a" stroke-width="0.8"/>
<polyline points="46.00,340.50 63.82,317.99 78.34,304.95" fill="none" stroke="#bb7c3a" stroke-width="1.9" stroke-linejoin="round"/>
<rect x="44.40" y="338.90" width="3.2" height="3.2" fill="#ecc9a0" stroke="#bb7c3a" stroke-width="0.8"/><rect x="62.22" y="316.38" width="3.2" height="3.2" fill="#ecc9a0" stroke="#bb7c3a" stroke-width="0.8"/><rect x="76.74" y="303.35" width="3.2" height="3.2" fill="#ecc9a0" stroke="#bb7c3a" stroke-width="0.8"/>
<polyline points="46.00,329.83 63.82,309.69 78.34,301.39" fill="none" stroke="#bb7c3a" stroke-width="1.9" stroke-linejoin="round"/>
<rect x="44.40" y="328.23" width="3.2" height="3.2" fill="#ecc9a0" stroke="#bb7c3a" stroke-width="0.8"/><rect x="62.22" y="308.09" width="3.2" height="3.2" fill="#ecc9a0" stroke="#bb7c3a" stroke-width="0.8"/><rect x="76.74" y="299.79" width="3.2" height="3.2" fill="#ecc9a0" stroke="#bb7c3a" stroke-width="0.8"/>
<polyline points="46.00,336.94 63.82,310.88 78.34,302.58" fill="none" stroke="#bb7c3a" stroke-width="1.9" stroke-linejoin="round"/>
<rect x="44.40" y="335.34" width="3.2" height="3.2" fill="#ecc9a0" stroke="#bb7c3a" stroke-width="0.8"/><rect x="62.22" y="309.27" width="3.2" height="3.2" fill="#ecc9a0" stroke="#bb7c3a" stroke-width="0.8"/><rect x="76.74" y="300.98" width="3.2" height="3.2" fill="#ecc9a0" stroke="#bb7c3a" stroke-width="0.8"/>
<polyline points="67.12,310.28 79.00,300.21" fill="none" stroke="#4a2c7c" stroke-width="1.3" stroke-linejoin="round"/>
<path d="M67.12 308.28 L69.02 311.58 L65.22 311.58 Z" fill="#4a2c7c"/><path d="M79.00 298.21 L80.90 301.51 L77.10 301.51 Z" fill="#4a2c7c"/>
<polyline points="65.80,312.06 79.00,301.39" fill="none" stroke="#4a2c7c" stroke-width="1.3" stroke-linejoin="round"/>
<path d="M65.80 310.06 L67.70 313.36 L63.90 313.36 Z" fill="#4a2c7c"/><path d="M79.00 299.39 L80.90 302.69 L77.10 302.69 Z" fill="#4a2c7c"/>
<path d="M215.30 290.60 V363.50 H321.20" fill="none" stroke="#555" stroke-width="1.0"/>
<line x1="212.50" y1="363.50" x2="215.30" y2="363.50" stroke="#333" stroke-width="0.8"/>
<text transform="translate(206.40,367.20)" font-size="8.1" text-anchor="end" fill="#1c1c1c">10</text><text x="209.60" y="364.80" font-size="4.9" text-anchor="end" fill="#555" style="stroke:none">6</text>
<line x1="212.50" y1="349.44" x2="215.30" y2="349.44" stroke="#333" stroke-width="0.8"/>
<text transform="translate(206.40,353.14)" font-size="8.1" text-anchor="end" fill="#1c1c1c">10</text><text x="209.60" y="350.74" font-size="4.9" text-anchor="end" fill="#555" style="stroke:none">7</text>
<line x1="212.50" y1="335.38" x2="215.30" y2="335.38" stroke="#333" stroke-width="0.8"/>
<text transform="translate(206.40,339.08)" font-size="8.1" text-anchor="end" fill="#1c1c1c">10</text><text x="209.60" y="336.68" font-size="4.9" text-anchor="end" fill="#555" style="stroke:none">8</text>
<line x1="212.50" y1="321.32" x2="215.30" y2="321.32" stroke="#333" stroke-width="0.8"/>
<text transform="translate(206.40,325.02)" font-size="8.1" text-anchor="end" fill="#1c1c1c">10</text><text x="209.60" y="322.62" font-size="4.9" text-anchor="end" fill="#555" style="stroke:none">9</text>
<line x1="212.50" y1="307.26" x2="215.30" y2="307.26" stroke="#333" stroke-width="0.8"/>
<text transform="translate(203.80,310.96)" font-size="8.1" text-anchor="end" fill="#1c1c1c">10</text><text x="209.60" y="308.56" font-size="4.9" text-anchor="end" fill="#555" style="stroke:none">10</text>
<line x1="212.50" y1="293.20" x2="215.30" y2="293.20" stroke="#333" stroke-width="0.8"/>
<text transform="translate(203.80,296.90)" font-size="8.1" text-anchor="end" fill="#1c1c1c">10</text><text x="209.60" y="294.50" font-size="4.9" text-anchor="end" fill="#555" style="stroke:none">11</text>
<line x1="215.30" y1="363.50" x2="215.30" y2="366.10" stroke="#333" stroke-width="0.8"/>
<text transform="translate(215.30,375.30) scale(0.9259,1)" font-size="8.64" text-anchor="middle" fill="#1c1c1c" font-weight="normal" >0</text>
<line x1="236.30" y1="363.50" x2="236.30" y2="366.10" stroke="#333" stroke-width="0.8"/>
<text transform="translate(236.30,375.30) scale(0.9259,1)" font-size="8.64" text-anchor="middle" fill="#1c1c1c" font-weight="normal" >2</text>
<line x1="257.30" y1="363.50" x2="257.30" y2="366.10" stroke="#333" stroke-width="0.8"/>
<text transform="translate(257.30,375.30) scale(0.9259,1)" font-size="8.64" text-anchor="middle" fill="#1c1c1c" font-weight="normal" >4</text>
<line x1="278.30" y1="363.50" x2="278.30" y2="366.10" stroke="#333" stroke-width="0.8"/>
<text transform="translate(278.30,375.30) scale(0.9259,1)" font-size="8.64" text-anchor="middle" fill="#1c1c1c" font-weight="normal" >6</text>
<line x1="299.30" y1="363.50" x2="299.30" y2="366.10" stroke="#333" stroke-width="0.8"/>
<text transform="translate(299.30,375.30) scale(0.9259,1)" font-size="8.64" text-anchor="middle" fill="#1c1c1c" font-weight="normal" >8</text>
<line x1="320.30" y1="363.50" x2="320.30" y2="366.10" stroke="#333" stroke-width="0.8"/>
<text transform="translate(320.30,375.30) scale(0.9259,1)" font-size="8.64" text-anchor="middle" fill="#1c1c1c" font-weight="normal" >10</text>
<text transform="translate(269.20,289.00) scale(0.9259,1)" font-size="8.64" text-anchor="middle" fill="#1c1c1c" font-weight="normal" >ETP5</text>
<text x="269.20" y="389.20" font-size="9.4" font-weight="normal" text-anchor="middle" fill="#1c1c1c" style="stroke-width:0.55px" textLength="17.0" lengthAdjust="spacingAndGlyphs">Week</text>
<text transform="translate(187.20,328.70) rotate(-90)" x="0" y="0" font-size="8.9" font-weight="normal" text-anchor="middle" fill="#1c1c1c" style="stroke-width:0.45px" textLength="47.5" lengthAdjust="spacingAndGlyphs">Radiance p/sec</text>
<polyline points="215.30,326.94 226.85,322.73 237.35,323.71 247.85,318.93 258.35,304.45 274.10,300.23 285.65,297.42" fill="none" stroke="#111111" stroke-width="2.6" stroke-linejoin="round" stroke-linecap="round"/>
<polyline points="215.30,329.76 226.85,324.13 237.35,318.51 247.85,312.88 258.35,303.04 274.10,300.93" fill="none" stroke="#111111" stroke-width="2.6" stroke-linejoin="round" stroke-linecap="round"/>
<polyline points="215.30,331.16 224.75,322.73 238.40,317.10 245.75,312.18 258.35,303.75 274.10,300.51 285.65,298.12" fill="none" stroke="#bb7c3a" stroke-width="2.6" stroke-linejoin="round" stroke-linecap="round"/>
<polyline points="215.30,329.33 224.75,320.90 238.40,315.27 245.75,310.35 258.35,301.92 274.10,298.68 285.65,296.29" fill="none" stroke="#bb7c3a" stroke-width="2.6" stroke-linejoin="round" stroke-linecap="round"/>
<polyline points="215.30,327.37 224.75,318.93 238.40,313.31 245.75,308.38 258.35,299.95 274.10,296.72 285.65,294.32" fill="none" stroke="#bb7c3a" stroke-width="2.6" stroke-linejoin="round" stroke-linecap="round"/>
<polyline points="215.30,325.54 224.75,317.10 238.40,311.48 245.75,306.56 258.35,298.12 274.10,294.89 285.65,292.50" fill="none" stroke="#bb7c3a" stroke-width="2.6" stroke-linejoin="round" stroke-linecap="round"/>
<polyline points="215.30,328.07 226.85,329.33 237.35,323.71 243.12,318.93 253.10,314.99 256.99,314.85 275.15,304.87" fill="none" stroke="#2f9e37" stroke-width="1.7" stroke-linejoin="round"/>
<path d="M215.30 326.07 L217.20 329.37 L213.40 329.37 Z" fill="#e9f5e9" stroke="#2f9e37" stroke-width="0.75"/><path d="M226.85 327.33 L228.75 330.63 L224.95 330.63 Z" fill="#e9f5e9" stroke="#2f9e37" stroke-width="0.75"/><path d="M237.35 321.71 L239.25 325.01 L235.45 325.01 Z" fill="#e9f5e9" stroke="#2f9e37" stroke-width="0.75"/><path d="M243.12 316.93 L245.03 320.23 L241.22 320.23 Z" fill="#e9f5e9" stroke="#2f9e37" stroke-width="0.75"/><path d="M253.10 312.99 L255.00 316.29 L251.20 316.29 Z" fill="#e9f5e9" stroke="#2f9e37" stroke-width="0.75"/><path d="M256.99 312.85 L258.88 316.15 L255.09 316.15 Z" fill="#e9f5e9" stroke="#2f9e37" stroke-width="0.75"/><path d="M275.15 302.87 L277.05 306.17 L273.25 306.17 Z" fill="#e9f5e9" stroke="#2f9e37" stroke-width="0.75"/>
<polyline points="215.30,326.94 226.85,328.35 237.35,322.73 246.80,318.51 256.99,314.85 274.10,312.46 285.65,305.29 296.15,302.34" fill="none" stroke="#2f9e37" stroke-width="1.7" stroke-linejoin="round"/>
<path d="M215.30 324.94 L217.20 328.24 L213.40 328.24 Z" fill="#e9f5e9" stroke="#2f9e37" stroke-width="0.75"/><path d="M226.85 326.35 L228.75 329.65 L224.95 329.65 Z" fill="#e9f5e9" stroke="#2f9e37" stroke-width="0.75"/><path d="M237.35 320.73 L239.25 324.03 L235.45 324.03 Z" fill="#e9f5e9" stroke="#2f9e37" stroke-width="0.75"/><path d="M246.80 316.51 L248.70 319.81 L244.90 319.81 Z" fill="#e9f5e9" stroke="#2f9e37" stroke-width="0.75"/><path d="M256.99 312.85 L258.88 316.15 L255.09 316.15 Z" fill="#e9f5e9" stroke="#2f9e37" stroke-width="0.75"/><path d="M274.10 310.46 L276.00 313.76 L272.20 313.76 Z" fill="#e9f5e9" stroke="#2f9e37" stroke-width="0.75"/><path d="M285.65 303.29 L287.55 306.59 L283.75 306.59 Z" fill="#e9f5e9" stroke="#2f9e37" stroke-width="0.75"/><path d="M296.15 300.34 L298.05 303.64 L294.25 303.64 Z" fill="#e9f5e9" stroke="#2f9e37" stroke-width="0.75"/>
<polyline points="215.30,329.05 226.85,328.35 237.35,324.13 246.80,319.91 256.99,314.85 275.15,317.24 284.60,317.81 295.10,323.99" fill="none" stroke="#2f9e37" stroke-width="1.7" stroke-linejoin="round"/>
<path d="M215.30 327.05 L217.20 330.35 L213.40 330.35 Z" fill="#e9f5e9" stroke="#2f9e37" stroke-width="0.75"/><path d="M226.85 326.35 L228.75 329.65 L224.95 329.65 Z" fill="#e9f5e9" stroke="#2f9e37" stroke-width="0.75"/><path d="M237.35 322.13 L239.25 325.43 L235.45 325.43 Z" fill="#e9f5e9" stroke="#2f9e37" stroke-width="0.75"/><path d="M246.80 317.91 L248.70 321.21 L244.90 321.21 Z" fill="#e9f5e9" stroke="#2f9e37" stroke-width="0.75"/><path d="M256.99 312.85 L258.88 316.15 L255.09 316.15 Z" fill="#e9f5e9" stroke="#2f9e37" stroke-width="0.75"/><path d="M275.15 315.24 L277.05 318.54 L273.25 318.54 Z" fill="#e9f5e9" stroke="#2f9e37" stroke-width="0.75"/><path d="M284.60 315.81 L286.50 319.11 L282.70 319.11 Z" fill="#e9f5e9" stroke="#2f9e37" stroke-width="0.75"/><path d="M295.10 321.99 L297.00 325.29 L293.20 325.29 Z" fill="#e9f5e9" stroke="#2f9e37" stroke-width="0.75"/>
<polyline points="215.30,328.35 226.85,329.05 237.35,323.43 246.80,319.21 256.99,314.85 274.10,339.46 285.65,333.13 296.15,358.58" fill="none" stroke="#2f9e37" stroke-width="1.7" stroke-linejoin="round"/>
<path d="M215.30 326.35 L217.20 329.65 L213.40 329.65 Z" fill="#e9f5e9" stroke="#2f9e37" stroke-width="0.75"/><path d="M226.85 327.05 L228.75 330.35 L224.95 330.35 Z" fill="#e9f5e9" stroke="#2f9e37" stroke-width="0.75"/><path d="M237.35 321.43 L239.25 324.73 L235.45 324.73 Z" fill="#e9f5e9" stroke="#2f9e37" stroke-width="0.75"/><path d="M246.80 317.21 L248.70 320.51 L244.90 320.51 Z" fill="#e9f5e9" stroke="#2f9e37" stroke-width="0.75"/><path d="M256.99 312.85 L258.88 316.15 L255.09 316.15 Z" fill="#e9f5e9" stroke="#2f9e37" stroke-width="0.75"/><path d="M274.10 337.46 L276.00 340.76 L272.20 340.76 Z" fill="#e9f5e9" stroke="#2f9e37" stroke-width="0.75"/><path d="M285.65 331.13 L287.55 334.43 L283.75 334.43 Z" fill="#e9f5e9" stroke="#2f9e37" stroke-width="0.75"/><path d="M296.15 356.58 L298.05 359.88 L294.25 359.88 Z" fill="#e9f5e9" stroke="#2f9e37" stroke-width="0.75"/>
<polyline points="215.30,326.94 226.85,322.73 237.35,323.71 247.85,318.93 258.35,304.45 274.10,300.23 285.65,297.42" fill="none" stroke="#111111" stroke-width="1.9" stroke-linejoin="round"/>
<circle cx="215.30" cy="326.94" r="1.6" fill="#111111"/><circle cx="226.85" cy="322.73" r="1.6" fill="#111111"/><circle cx="237.35" cy="323.71" r="1.6" fill="#111111"/><circle cx="247.85" cy="318.93" r="1.6" fill="#111111"/><circle cx="258.35" cy="304.45" r="1.6" fill="#111111"/><circle cx="274.10" cy="300.23" r="1.6" fill="#111111"/><circle cx="285.65" cy="297.42" r="1.6" fill="#111111"/>
<polyline points="215.30,329.76 226.85,324.13 237.35,318.51 247.85,312.88 258.35,303.04 274.10,300.93" fill="none" stroke="#111111" stroke-width="1.9" stroke-linejoin="round"/>
<circle cx="215.30" cy="329.76" r="1.6" fill="#111111"/><circle cx="226.85" cy="324.13" r="1.6" fill="#111111"/><circle cx="237.35" cy="318.51" r="1.6" fill="#111111"/><circle cx="247.85" cy="312.88" r="1.6" fill="#111111"/><circle cx="258.35" cy="303.04" r="1.6" fill="#111111"/><circle cx="274.10" cy="300.93" r="1.6" fill="#111111"/>
<polyline points="215.30,331.16 224.75,322.73 238.40,317.10 245.75,312.18 258.35,303.75 274.10,300.51 285.65,298.12" fill="none" stroke="#bb7c3a" stroke-width="1.9" stroke-linejoin="round"/>
<rect x="213.70" y="329.56" width="3.2" height="3.2" fill="#ecc9a0" stroke="#bb7c3a" stroke-width="0.8"/><rect x="223.15" y="321.13" width="3.2" height="3.2" fill="#ecc9a0" stroke="#bb7c3a" stroke-width="0.8"/><rect x="236.80" y="315.50" width="3.2" height="3.2" fill="#ecc9a0" stroke="#bb7c3a" stroke-width="0.8"/><rect x="244.15" y="310.58" width="3.2" height="3.2" fill="#ecc9a0" stroke="#bb7c3a" stroke-width="0.8"/><rect x="256.75" y="302.14" width="3.2" height="3.2" fill="#ecc9a0" stroke="#bb7c3a" stroke-width="0.8"/><rect x="272.50" y="298.91" width="3.2" height="3.2" fill="#ecc9a0" stroke="#bb7c3a" stroke-width="0.8"/><rect x="284.05" y="296.52" width="3.2" height="3.2" fill="#ecc9a0" stroke="#bb7c3a" stroke-width="0.8"/>
<polyline points="215.30,329.33 224.75,320.90 238.40,315.27 245.75,310.35 258.35,301.92 274.10,298.68 285.65,296.29" fill="none" stroke="#bb7c3a" stroke-width="1.9" stroke-linejoin="round"/>
<rect x="213.70" y="327.73" width="3.2" height="3.2" fill="#ecc9a0" stroke="#bb7c3a" stroke-width="0.8"/><rect x="223.15" y="319.30" width="3.2" height="3.2" fill="#ecc9a0" stroke="#bb7c3a" stroke-width="0.8"/><rect x="236.80" y="313.67" width="3.2" height="3.2" fill="#ecc9a0" stroke="#bb7c3a" stroke-width="0.8"/><rect x="244.15" y="308.75" width="3.2" height="3.2" fill="#ecc9a0" stroke="#bb7c3a" stroke-width="0.8"/><rect x="256.75" y="300.32" width="3.2" height="3.2" fill="#ecc9a0" stroke="#bb7c3a" stroke-width="0.8"/><rect x="272.50" y="297.08" width="3.2" height="3.2" fill="#ecc9a0" stroke="#bb7c3a" stroke-width="0.8"/><rect x="284.05" y="294.69" width="3.2" height="3.2" fill="#ecc9a0" stroke="#bb7c3a" stroke-width="0.8"/>
<polyline points="215.30,327.37 224.75,318.93 238.40,313.31 245.75,308.38 258.35,299.95 274.10,296.72 285.65,294.32" fill="none" stroke="#bb7c3a" stroke-width="1.9" stroke-linejoin="round"/>
<rect x="213.70" y="325.77" width="3.2" height="3.2" fill="#ecc9a0" stroke="#bb7c3a" stroke-width="0.8"/><rect x="223.15" y="317.33" width="3.2" height="3.2" fill="#ecc9a0" stroke="#bb7c3a" stroke-width="0.8"/><rect x="236.80" y="311.71" width="3.2" height="3.2" fill="#ecc9a0" stroke="#bb7c3a" stroke-width="0.8"/><rect x="244.15" y="306.78" width="3.2" height="3.2" fill="#ecc9a0" stroke="#bb7c3a" stroke-width="0.8"/><rect x="256.75" y="298.35" width="3.2" height="3.2" fill="#ecc9a0" stroke="#bb7c3a" stroke-width="0.8"/><rect x="272.50" y="295.12" width="3.2" height="3.2" fill="#ecc9a0" stroke="#bb7c3a" stroke-width="0.8"/><rect x="284.05" y="292.72" width="3.2" height="3.2" fill="#ecc9a0" stroke="#bb7c3a" stroke-width="0.8"/>
<polyline points="215.30,325.54 224.75,317.10 238.40,311.48 245.75,306.56 258.35,298.12 274.10,294.89 285.65,292.50" fill="none" stroke="#bb7c3a" stroke-width="1.9" stroke-linejoin="round"/>
<rect x="213.70" y="323.94" width="3.2" height="3.2" fill="#ecc9a0" stroke="#bb7c3a" stroke-width="0.8"/><rect x="223.15" y="315.50" width="3.2" height="3.2" fill="#ecc9a0" stroke="#bb7c3a" stroke-width="0.8"/><rect x="236.80" y="309.88" width="3.2" height="3.2" fill="#ecc9a0" stroke="#bb7c3a" stroke-width="0.8"/><rect x="244.15" y="304.96" width="3.2" height="3.2" fill="#ecc9a0" stroke="#bb7c3a" stroke-width="0.8"/><rect x="256.75" y="296.52" width="3.2" height="3.2" fill="#ecc9a0" stroke="#bb7c3a" stroke-width="0.8"/><rect x="272.50" y="293.29" width="3.2" height="3.2" fill="#ecc9a0" stroke="#bb7c3a" stroke-width="0.8"/><rect x="284.05" y="290.90" width="3.2" height="3.2" fill="#ecc9a0" stroke="#bb7c3a" stroke-width="0.8"/>
<polyline points="215.30,321.32 227.90,315.98 237.35,305.85 243.65,304.45 258.35,300.23 274.10,297.42 285.65,295.31" fill="none" stroke="#4a2c7c" stroke-width="1.3" stroke-linejoin="round"/>
<path d="M215.30 319.32 L217.20 322.62 L213.40 322.62 Z" fill="#4a2c7c"/><path d="M227.90 313.98 L229.80 317.28 L226.00 317.28 Z" fill="#4a2c7c"/><path d="M237.35 303.85 L239.25 307.15 L235.45 307.15 Z" fill="#4a2c7c"/><path d="M243.65 302.45 L245.55 305.75 L241.75 305.75 Z" fill="#4a2c7c"/><path d="M258.35 298.23 L260.25 301.53 L256.45 301.53 Z" fill="#4a2c7c"/><path d="M274.10 295.42 L276.00 298.72 L272.20 298.72 Z" fill="#4a2c7c"/><path d="M285.65 293.31 L287.55 296.61 L283.75 296.61 Z" fill="#4a2c7c"/>
<polyline points="215.30,340.44 221.60,330.46 243.12,316.96 248.90,315.98 253.10,310.21 256.25,306.42 274.10,298.82 285.65,296.01" fill="none" stroke="#4a2c7c" stroke-width="1.3" stroke-linejoin="round"/>
<path d="M215.30 338.44 L217.20 341.74 L213.40 341.74 Z" fill="#4a2c7c"/><path d="M221.60 328.46 L223.50 331.76 L219.70 331.76 Z" fill="#4a2c7c"/><path d="M243.12 314.96 L245.03 318.26 L241.22 318.26 Z" fill="#4a2c7c"/><path d="M248.90 313.98 L250.80 317.28 L247.00 317.28 Z" fill="#4a2c7c"/><path d="M253.10 308.21 L255.00 311.51 L251.20 311.51 Z" fill="#4a2c7c"/><path d="M256.25 304.42 L258.15 307.72 L254.35 307.72 Z" fill="#4a2c7c"/><path d="M274.10 296.82 L276.00 300.12 L272.20 300.12 Z" fill="#4a2c7c"/><path d="M285.65 294.01 L287.55 297.31 L283.75 297.31 Z" fill="#4a2c7c"/>
<line x1="328.00" y1="313.70" x2="337.80" y2="313.70" stroke="#bb7c3a" stroke-width="1.1"/>
<g transform="translate(332.9,313.7) scale(1.35) translate(-332.9,-313.7)"><rect x="331.30" y="312.10" width="3.2" height="3.2" fill="#ecc9a0" stroke="#bb7c3a" stroke-width="0.8"/></g>
<text transform="translate(341.60,316.30) scale(0.9259,1)" font-size="8.10" text-anchor="start" fill="#1c1c1c" font-weight="normal" >Saline</text>
<line x1="328.00" y1="323.80" x2="337.80" y2="323.80" stroke="#4a2c7c" stroke-width="1.1"/>
<g transform="translate(332.9,323.8) scale(1.35) translate(-332.9,-323.8)"><path d="M332.90 321.80 L334.80 325.10 L331.00 325.10 Z" fill="#4a2c7c"/></g>
<text transform="translate(341.60,326.40) scale(0.9259,1)" font-size="8.10" text-anchor="start" fill="#1c1c1c" font-weight="normal" >UTD</text>
<line x1="328.00" y1="334.00" x2="337.80" y2="334.00" stroke="#2f9e37" stroke-width="1.1"/>
<g transform="translate(332.9,334.0) scale(1.35) translate(-332.9,-334.0)"><path d="M332.90 332.00 L334.80 335.30 L331.00 335.30 Z" fill="#e9f5e9" stroke="#2f9e37" stroke-width="0.75"/></g>
<text transform="translate(341.60,336.60) scale(0.9259,1)" font-size="8.10" text-anchor="start" fill="#1c1c1c" font-weight="normal" >CART-38</text>
<line x1="328.00" y1="344.20" x2="337.80" y2="344.20" stroke="#111111" stroke-width="1.1"/>
<g transform="translate(332.9,344.2) scale(1.35) translate(-332.9,-344.2)"><circle cx="332.90" cy="344.20" r="1.6" fill="#111111"/></g>
<text transform="translate(341.60,346.80) scale(0.9259,1)" font-size="8.10" text-anchor="start" fill="#1c1c1c" font-weight="normal" >Daratumumab</text>
<text transform="translate(3.00,422.90) scale(0.9259,1)" font-size="12.42" text-anchor="start" fill="#000" font-weight="bold" >C</text>
<path d="M49.60 428.70 V506.30 H168.50" fill="none" stroke="#222" stroke-width="0.9"/>
<line x1="46.40" y1="506.30" x2="49.60" y2="506.30" stroke="#222" stroke-width="0.8"/>
<text transform="translate(42.70,509.20) scale(0.9259,1)" font-size="8.96" text-anchor="end" fill="#1c1c1c" font-weight="normal" >0</text>
<line x1="46.40" y1="488.60" x2="49.60" y2="488.60" stroke="#222" stroke-width="0.8"/>
<text transform="translate(42.70,491.50) scale(0.9259,1)" font-size="8.96" text-anchor="end" fill="#1c1c1c" font-weight="normal" >25</text>
<line x1="46.40" y1="470.90" x2="49.60" y2="470.90" stroke="#222" stroke-width="0.8"/>
<text transform="translate(42.70,473.80) scale(0.9259,1)" font-size="8.96" text-anchor="end" fill="#1c1c1c" font-weight="normal" >50</text>
<line x1="46.40" y1="453.20" x2="49.60" y2="453.20" stroke="#222" stroke-width="0.8"/>
<text transform="translate(42.70,456.10) scale(0.9259,1)" font-size="8.96" text-anchor="end" fill="#1c1c1c" font-weight="normal" >75</text>
<line x1="46.40" y1="435.50" x2="49.60" y2="435.50" stroke="#222" stroke-width="0.8"/>
<text transform="translate(42.70,438.40) scale(0.9259,1)" font-size="8.96" text-anchor="end" fill="#1c1c1c" font-weight="normal" >100</text>
<line x1="49.60" y1="506.30" x2="49.60" y2="509.30" stroke="#222" stroke-width="0.8"/>
<text transform="translate(49.60,520.00) scale(0.9259,1)" font-size="8.86" text-anchor="middle" fill="#1c1c1c" font-weight="normal" >0</text>
<line x1="88.60" y1="506.30" x2="88.60" y2="509.30" stroke="#222" stroke-width="0.8"/>
<text transform="translate(88.60,520.00) scale(0.9259,1)" font-size="8.86" text-anchor="middle" fill="#1c1c1c" font-weight="normal" >50</text>
<line x1="127.60" y1="506.30" x2="127.60" y2="509.30" stroke="#222" stroke-width="0.8"/>
<text transform="translate(127.60,520.00) scale(0.9259,1)" font-size="8.86" text-anchor="middle" fill="#1c1c1c" font-weight="normal" >100</text>
<line x1="166.60" y1="506.30" x2="166.60" y2="509.30" stroke="#222" stroke-width="0.8"/>
<text transform="translate(166.60,520.00) scale(0.9259,1)" font-size="8.86" text-anchor="middle" fill="#1c1c1c" font-weight="normal" >150</text>
<text x="81.80" y="423.60" font-size="8.3" fill="#1c1c1c">TH34</text><text x="109.00" y="423.60" font-size="8.3" fill="#1c1c1c"><tspan font-style="italic">P</tspan> = .04</text>
<text x="109.40" y="534.20" font-size="9.7" font-weight="normal" text-anchor="middle" fill="#1c1c1c" style="stroke-width:0.6px" textLength="15.0" lengthAdjust="spacingAndGlyphs">Days</text>
<text transform="translate(22.30,467.70) rotate(-90)" x="0" y="0" font-size="9.6" font-weight="normal" text-anchor="middle" fill="#1c1c1c" style="stroke-width:0.42px" textLength="66.5" lengthAdjust="spacingAndGlyphs">Probability of survival</text>
<path d="M49.60 435.50 H95.23 V449.66 H98.19 V492.14 H101.86 V506.30" fill="none" stroke="#222222" stroke-width="1.15"/>
<path d="M49.60 435.50 H92.50 V449.66 H93.28 V492.14 H97.57 V506.30" fill="none" stroke="#5a5496" stroke-width="1.15"/>
<path d="M49.60 435.50 H136.18 V470.90 H138.36 V506.30" fill="none" stroke="#62a470" stroke-width="1.15"/>
<path d="M49.60 435.50 H92.89 V449.66 H93.28 V492.14 H94.84 V506.30" fill="none" stroke="#c29670" stroke-width="1.15"/>
<path d="M215.40 428.70 V506.10 H335.40" fill="none" stroke="#222" stroke-width="0.9"/>
<line x1="212.20" y1="506.10" x2="215.40" y2="506.10" stroke="#222" stroke-width="0.8"/>
<text transform="translate(208.50,509.00) scale(0.9259,1)" font-size="8.96" text-anchor="end" fill="#1c1c1c" font-weight="normal" >0</text>
<line x1="212.20" y1="488.45" x2="215.40" y2="488.45" stroke="#222" stroke-width="0.8"/>
<text transform="translate(208.50,491.35) scale(0.9259,1)" font-size="8.96" text-anchor="end" fill="#1c1c1c" font-weight="normal" >25</text>
<line x1="212.20" y1="470.80" x2="215.40" y2="470.80" stroke="#222" stroke-width="0.8"/>
<text transform="translate(208.50,473.70) scale(0.9259,1)" font-size="8.96" text-anchor="end" fill="#1c1c1c" font-weight="normal" >50</text>
<line x1="212.20" y1="453.15" x2="215.40" y2="453.15" stroke="#222" stroke-width="0.8"/>
<text transform="translate(208.50,456.05) scale(0.9259,1)" font-size="8.96" text-anchor="end" fill="#1c1c1c" font-weight="normal" >75</text>
<line x1="212.20" y1="435.50" x2="215.40" y2="435.50" stroke="#222" stroke-width="0.8"/>
<text transform="translate(208.50,438.40) scale(0.9259,1)" font-size="8.96" text-anchor="end" fill="#1c1c1c" font-weight="normal" >100</text>
<line x1="215.40" y1="506.10" x2="215.40" y2="509.10" stroke="#222" stroke-width="0.8"/>
<text transform="translate(215.40,519.80) scale(0.9259,1)" font-size="8.86" text-anchor="middle" fill="#1c1c1c" font-weight="normal" >0</text>
<line x1="238.95" y1="506.10" x2="238.95" y2="509.10" stroke="#222" stroke-width="0.8"/>
<text transform="translate(238.95,519.80) scale(0.9259,1)" font-size="8.86" text-anchor="middle" fill="#1c1c1c" font-weight="normal" >50</text>
<line x1="262.50" y1="506.10" x2="262.50" y2="509.10" stroke="#222" stroke-width="0.8"/>
<text transform="translate(262.50,519.80) scale(0.9259,1)" font-size="8.86" text-anchor="middle" fill="#1c1c1c" font-weight="normal" >100</text>
<line x1="286.05" y1="506.10" x2="286.05" y2="509.10" stroke="#222" stroke-width="0.8"/>
<text transform="translate(286.05,519.80) scale(0.9259,1)" font-size="8.86" text-anchor="middle" fill="#1c1c1c" font-weight="normal" >150</text>
<line x1="309.60" y1="506.10" x2="309.60" y2="509.10" stroke="#222" stroke-width="0.8"/>
<text transform="translate(309.60,519.80) scale(0.9259,1)" font-size="8.86" text-anchor="middle" fill="#1c1c1c" font-weight="normal" >200</text>
<line x1="333.15" y1="506.10" x2="333.15" y2="509.10" stroke="#222" stroke-width="0.8"/>
<text transform="translate(333.15,519.80) scale(0.9259,1)" font-size="8.86" text-anchor="middle" fill="#1c1c1c" font-weight="normal" >250</text>
<text x="248.60" y="423.60" font-size="8.3" fill="#1c1c1c">ALL8</text><text x="275.20" y="423.60" font-size="8.3" fill="#1c1c1c"><tspan font-style="italic">P</tspan> = .42</text>
<text x="276.20" y="534.40" font-size="9.7" font-weight="normal" text-anchor="middle" fill="#1c1c1c" style="stroke-width:0.6px" textLength="14.4" lengthAdjust="spacingAndGlyphs">Time</text>
<text transform="translate(188.20,467.70) rotate(-90)" x="0" y="0" font-size="9.6" font-weight="normal" text-anchor="middle" fill="#1c1c1c" style="stroke-width:0.42px" textLength="66.5" lengthAdjust="spacingAndGlyphs">Probability of survival</text>
<path d="M215.40 435.50 H223.88 V453.15 H249.78 V470.80 H253.55 V488.45 H273.57 V506.10" fill="none" stroke="#c29670" stroke-width="1.15"/>
<path d="M215.40 435.50 H231.41 V453.15 H254.26 V470.80 H275.69 V488.45 H296.41 V506.10" fill="none" stroke="#62a470" stroke-width="1.15"/>
<path d="M215.40 435.50 H257.32 V449.62 H273.33 V463.74 H276.63 V477.86 H295.47 V491.98 H310.54 V506.10" fill="none" stroke="#5a5496" stroke-width="1.15"/>
<path d="M215.40 435.50 H248.37 V449.62 H250.25 V463.74 H253.55 V491.98 H254.73 V506.10" fill="none" stroke="#222222" stroke-width="1.15"/>
<path d="M381.10 428.70 V506.10 H501.10" fill="none" stroke="#222" stroke-width="0.9"/>
<line x1="377.90" y1="506.10" x2="381.10" y2="506.10" stroke="#222" stroke-width="0.8"/>
<text transform="translate(374.20,509.00) scale(0.9259,1)" font-size="8.96" text-anchor="end" fill="#1c1c1c" font-weight="normal" >0</text>
<line x1="377.90" y1="488.45" x2="381.10" y2="488.45" stroke="#222" stroke-width="0.8"/>
<text transform="translate(374.20,491.35) scale(0.9259,1)" font-size="8.96" text-anchor="end" fill="#1c1c1c" font-weight="normal" >25</text>
<line x1="377.90" y1="470.80" x2="381.10" y2="470.80" stroke="#222" stroke-width="0.8"/>
<text transform="translate(374.20,473.70) scale(0.9259,1)" font-size="8.96" text-anchor="end" fill="#1c1c1c" font-weight="normal" >50</text>
<line x1="377.90" y1="453.15" x2="381.10" y2="453.15" stroke="#222" stroke-width="0.8"/>
<text transform="translate(374.20,456.05) scale(0.9259,1)" font-size="8.96" text-anchor="end" fill="#1c1c1c" font-weight="normal" >75</text>
<line x1="377.90" y1="435.50" x2="381.10" y2="435.50" stroke="#222" stroke-width="0.8"/>
<text transform="translate(374.20,438.40) scale(0.9259,1)" font-size="8.96" text-anchor="end" fill="#1c1c1c" font-weight="normal" >100</text>
<line x1="381.10" y1="506.10" x2="381.10" y2="509.10" stroke="#222" stroke-width="0.8"/>
<text transform="translate(381.10,519.80) scale(0.9259,1)" font-size="8.86" text-anchor="middle" fill="#1c1c1c" font-weight="normal" >0</text>
<line x1="420.00" y1="506.10" x2="420.00" y2="509.10" stroke="#222" stroke-width="0.8"/>
<text transform="translate(420.00,519.80) scale(0.9259,1)" font-size="8.86" text-anchor="middle" fill="#1c1c1c" font-weight="normal" >50</text>
<line x1="458.90" y1="506.10" x2="458.90" y2="509.10" stroke="#222" stroke-width="0.8"/>
<text transform="translate(458.90,519.80) scale(0.9259,1)" font-size="8.86" text-anchor="middle" fill="#1c1c1c" font-weight="normal" >100</text>
<line x1="497.80" y1="506.10" x2="497.80" y2="509.10" stroke="#222" stroke-width="0.8"/>
<text transform="translate(497.80,519.80) scale(0.9259,1)" font-size="8.86" text-anchor="middle" fill="#1c1c1c" font-weight="normal" >150</text>
<text x="409.20" y="423.60" font-size="8.3" fill="#1c1c1c">ALL33</text><text x="440.20" y="423.60" font-size="8.3" fill="#1c1c1c"><tspan font-style="italic">P</tspan> = .002</text>
<text x="440.40" y="534.40" font-size="9.7" font-weight="normal" text-anchor="middle" fill="#1c1c1c" style="stroke-width:0.6px" textLength="14.4" lengthAdjust="spacingAndGlyphs">Time</text>
<text transform="translate(354.20,467.70) rotate(-90)" x="0" y="0" font-size="9.6" font-weight="normal" text-anchor="middle" fill="#1c1c1c" style="stroke-width:0.42px" textLength="66.5" lengthAdjust="spacingAndGlyphs">Probability of survival</text>
<path d="M381.10 435.50 H404.83 V463.74 H407.55 V477.86 H409.11 V491.98 H411.83 V506.10" fill="none" stroke="#222222" stroke-width="1.15"/>
<path d="M381.10 435.50 H402.11 V477.86 H402.88 V491.98 H403.66 V506.10" fill="none" stroke="#5a5496" stroke-width="1.15"/>
<path d="M381.10 435.50 H450.34 V449.62 H455.40 V463.74 H461.62 V477.86 H466.68 V491.98 H474.85 V506.10" fill="none" stroke="#62a470" stroke-width="1.15"/>
<path d="M381.10 435.50 H401.33 V491.98 H402.50 V506.10" fill="none" stroke="#c29670" stroke-width="1.15"/>
<path d="M50.10 566.60 V644.50 H169.70" fill="none" stroke="#222" stroke-width="0.9"/>
<line x1="46.90" y1="644.50" x2="50.10" y2="644.50" stroke="#222" stroke-width="0.8"/>
<text transform="translate(43.20,647.40) scale(0.9259,1)" font-size="8.96" text-anchor="end" fill="#1c1c1c" font-weight="normal" >0</text>
<line x1="46.90" y1="626.73" x2="50.10" y2="626.73" stroke="#222" stroke-width="0.8"/>
<text transform="translate(43.20,629.62) scale(0.9259,1)" font-size="8.96" text-anchor="end" fill="#1c1c1c" font-weight="normal" >25</text>
<line x1="46.90" y1="608.95" x2="50.10" y2="608.95" stroke="#222" stroke-width="0.8"/>
<text transform="translate(43.20,611.85) scale(0.9259,1)" font-size="8.96" text-anchor="end" fill="#1c1c1c" font-weight="normal" >50</text>
<line x1="46.90" y1="591.17" x2="50.10" y2="591.17" stroke="#222" stroke-width="0.8"/>
<text transform="translate(43.20,594.07) scale(0.9259,1)" font-size="8.96" text-anchor="end" fill="#1c1c1c" font-weight="normal" >75</text>
<line x1="46.90" y1="573.40" x2="50.10" y2="573.40" stroke="#222" stroke-width="0.8"/>
<text transform="translate(43.20,576.30) scale(0.9259,1)" font-size="8.96" text-anchor="end" fill="#1c1c1c" font-weight="normal" >100</text>
<line x1="50.10" y1="644.50" x2="50.10" y2="647.50" stroke="#222" stroke-width="0.8"/>
<text transform="translate(50.10,658.20) scale(0.9259,1)" font-size="8.86" text-anchor="middle" fill="#1c1c1c" font-weight="normal" >0</text>
<line x1="89.30" y1="644.50" x2="89.30" y2="647.50" stroke="#222" stroke-width="0.8"/>
<text transform="translate(89.30,658.20) scale(0.9259,1)" font-size="8.86" text-anchor="middle" fill="#1c1c1c" font-weight="normal" >50</text>
<line x1="128.50" y1="644.50" x2="128.50" y2="647.50" stroke="#222" stroke-width="0.8"/>
<text transform="translate(128.50,658.20) scale(0.9259,1)" font-size="8.86" text-anchor="middle" fill="#1c1c1c" font-weight="normal" >100</text>
<line x1="167.70" y1="644.50" x2="167.70" y2="647.50" stroke="#222" stroke-width="0.8"/>
<text transform="translate(167.70,658.20) scale(0.9259,1)" font-size="8.86" text-anchor="middle" fill="#1c1c1c" font-weight="normal" >150</text>
<text x="80.60" y="561.40" font-size="8.3" fill="#1c1c1c">ETP5</text><text x="106.80" y="561.40" font-size="8.3" fill="#1c1c1c"><tspan font-style="italic">P</tspan> = .049</text>
<text x="109.90" y="672.60" font-size="9.7" font-weight="normal" text-anchor="middle" fill="#1c1c1c" style="stroke-width:0.6px" textLength="40.2" lengthAdjust="spacingAndGlyphs">Days elapsed</text>
<text transform="translate(23.00,605.50) rotate(-90)" x="0" y="0" font-size="9.6" font-weight="normal" text-anchor="middle" fill="#1c1c1c" style="stroke-width:0.42px" textLength="66.5" lengthAdjust="spacingAndGlyphs">Probability of survival</text>
<path d="M50.10 573.40 H99.88 V587.62 H102.24 V601.84 H103.80 V630.28 H105.37 V644.50" fill="none" stroke="#222222" stroke-width="1.15"/>
<path d="M50.10 573.40 H99.10 V587.62 H101.84 V601.84 H103.41 V616.06 H104.59 V644.50" fill="none" stroke="#5a5496" stroke-width="1.15"/>
<path d="M50.10 573.40 H99.88 V587.62 H105.76 V601.84 H118.31 V616.06 H154.37 V630.28 H158.29 V644.50" fill="none" stroke="#62a470" stroke-width="1.15"/>
<path d="M50.10 573.40 H98.32 V601.84 H101.84 V616.06 H103.41 V630.28 H104.20 V644.50" fill="none" stroke="#c29670" stroke-width="1.15"/>
<path d="M215.50 566.60 V644.70 H335.20" fill="none" stroke="#222" stroke-width="0.9"/>
<line x1="212.30" y1="644.70" x2="215.50" y2="644.70" stroke="#222" stroke-width="0.8"/>
<text transform="translate(208.60,647.60) scale(0.9259,1)" font-size="8.96" text-anchor="end" fill="#1c1c1c" font-weight="normal" >0</text>
<line x1="212.30" y1="626.88" x2="215.50" y2="626.88" stroke="#222" stroke-width="0.8"/>
<text transform="translate(208.60,629.77) scale(0.9259,1)" font-size="8.96" text-anchor="end" fill="#1c1c1c" font-weight="normal" >25</text>
<line x1="212.30" y1="609.05" x2="215.50" y2="609.05" stroke="#222" stroke-width="0.8"/>
<text transform="translate(208.60,611.95) scale(0.9259,1)" font-size="8.96" text-anchor="end" fill="#1c1c1c" font-weight="normal" >50</text>
<line x1="212.30" y1="591.23" x2="215.50" y2="591.23" stroke="#222" stroke-width="0.8"/>
<text transform="translate(208.60,594.12) scale(0.9259,1)" font-size="8.96" text-anchor="end" fill="#1c1c1c" font-weight="normal" >75</text>
<line x1="212.30" y1="573.40" x2="215.50" y2="573.40" stroke="#222" stroke-width="0.8"/>
<text transform="translate(208.60,576.30) scale(0.9259,1)" font-size="8.96" text-anchor="end" fill="#1c1c1c" font-weight="normal" >100</text>
<line x1="215.50" y1="644.70" x2="215.50" y2="647.70" stroke="#222" stroke-width="0.8"/>
<text transform="translate(215.50,658.40) scale(0.9259,1)" font-size="8.86" text-anchor="middle" fill="#1c1c1c" font-weight="normal" >0</text>
<line x1="244.85" y1="644.70" x2="244.85" y2="647.70" stroke="#222" stroke-width="0.8"/>
<text transform="translate(244.85,658.40) scale(0.9259,1)" font-size="8.86" text-anchor="middle" fill="#1c1c1c" font-weight="normal" >50</text>
<line x1="274.20" y1="644.70" x2="274.20" y2="647.70" stroke="#222" stroke-width="0.8"/>
<text transform="translate(274.20,658.40) scale(0.9259,1)" font-size="8.86" text-anchor="middle" fill="#1c1c1c" font-weight="normal" >100</text>
<line x1="303.55" y1="644.70" x2="303.55" y2="647.70" stroke="#222" stroke-width="0.8"/>
<text transform="translate(303.55,658.40) scale(0.9259,1)" font-size="8.86" text-anchor="middle" fill="#1c1c1c" font-weight="normal" >150</text>
<line x1="332.90" y1="644.70" x2="332.90" y2="647.70" stroke="#222" stroke-width="0.8"/>
<text transform="translate(332.90,658.40) scale(0.9259,1)" font-size="8.86" text-anchor="middle" fill="#1c1c1c" font-weight="normal" >200</text>
<text x="245.80" y="561.40" font-size="8.3" fill="#1c1c1c">ETP1</text><text x="272.20" y="561.40" font-size="8.3" fill="#1c1c1c"><tspan font-style="italic">P</tspan> = .002</text>
<text x="274.40" y="672.20" font-size="9.7" font-weight="normal" text-anchor="middle" fill="#1c1c1c" style="stroke-width:0.6px" textLength="14.4" lengthAdjust="spacingAndGlyphs">Time</text>
<text transform="translate(189.00,605.50) rotate(-90)" x="0" y="0" font-size="9.6" font-weight="normal" text-anchor="middle" fill="#1c1c1c" style="stroke-width:0.42px" textLength="66.5" lengthAdjust="spacingAndGlyphs">Probability of survival</text>
<path d="M215.50 573.40 H268.33 V601.92 H297.09 V644.70" fill="none" stroke="#222222" stroke-width="1.15"/>
<path d="M215.50 573.40 H286.82 V601.92 H287.70 V616.18 H290.93 V630.44 H292.40 V644.70" fill="none" stroke="#5a5496" stroke-width="1.15"/>
<path d="M215.50 573.40 H306.49 V587.66 H310.89 V601.92 H314.41 V616.18 H315.29 V630.44 H317.34 V644.70" fill="none" stroke="#62a470" stroke-width="1.15"/>
<path d="M215.50 573.40 H286.82 V601.92 H291.52 V616.18 H297.09 V644.70" fill="none" stroke="#c29670" stroke-width="1.15"/>
<line x1="338.10" y1="591.60" x2="348.20" y2="591.60" stroke="#a88a6c" stroke-width="1.1"/>
<line x1="343.50" y1="590.00" x2="343.50" y2="591.60" stroke="#a88a6c" stroke-width="0.8"/>
<text transform="translate(351.50,593.70) scale(0.9259,1)" font-size="8.10" text-anchor="start" fill="#1c1c1c" font-weight="normal" >Saline</text>
<line x1="338.10" y1="601.30" x2="348.20" y2="601.30" stroke="#56569a" stroke-width="1.1"/>
<line x1="343.50" y1="599.70" x2="343.50" y2="601.30" stroke="#56569a" stroke-width="0.8"/>
<text transform="translate(351.50,603.10) scale(0.9259,1)" font-size="8.10" text-anchor="start" fill="#1c1c1c" font-weight="normal" >UTD</text>
<line x1="338.10" y1="611.00" x2="348.20" y2="611.00" stroke="#222222" stroke-width="1.1"/>
<line x1="343.50" y1="609.40" x2="343.50" y2="611.00" stroke="#222222" stroke-width="0.8"/>
<text transform="translate(351.50,612.60) scale(0.9259,1)" font-size="8.10" text-anchor="start" fill="#1c1c1c" font-weight="normal" >Daratumumab</text>
<line x1="338.10" y1="620.40" x2="348.20" y2="620.40" stroke="#5f9366" stroke-width="1.1"/>
<line x1="343.50" y1="618.80" x2="343.50" y2="620.40" stroke="#5f9366" stroke-width="0.8"/>
<text transform="translate(351.50,622.00) scale(0.9259,1)" font-size="8.10" text-anchor="start" fill="#1c1c1c" font-weight="normal" >CART-38</text>
<rect x="0.5" y="0.5" width="519" height="682" fill="none" stroke="#4a4a4a" stroke-width="1.2"/>
</svg>
</body></html>
